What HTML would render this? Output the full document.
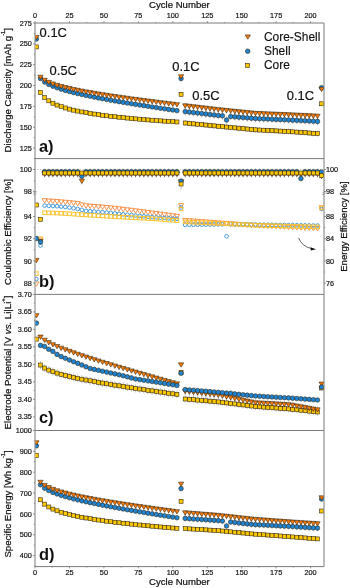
<!DOCTYPE html><html><head><meta charset="utf-8"><style>html,body{margin:0;padding:0;background:#fff;overflow:hidden}svg{display:block;will-change:transform;font-family:"Liberation Sans",sans-serif}</style></head><body>
<svg width="350" height="588" viewBox="0 0 350 588" font-family="&quot;Liberation Sans&quot;, sans-serif" fill="#111">
<rect width="350" height="588" fill="#fff"/>
<defs><clipPath id="pc"><rect x="35.4" y="23.5" width="288.2" height="542.6"/></clipPath></defs>
<path d="M35.0,169.5 H324.0" stroke="#9a9a9a" stroke-width="0.6" stroke-dasharray="1,1.5"/>
<path d="M35.0,23.0 H324.0 V566.6 H35.0 Z" fill="none" stroke="#7a7a7a" stroke-width="1"/>
<path d="M35.0,158.6 H324.0" fill="none" stroke="#7a7a7a" stroke-width="1"/>
<path d="M35.0,294.4 H324.0" fill="none" stroke="#7a7a7a" stroke-width="1"/>
<path d="M35.0,430.5 H324.0" fill="none" stroke="#7a7a7a" stroke-width="1"/>
<path d="M35.00,23.0 v-1.8 M35.00,566.6 v1.8" stroke="#7a7a7a" stroke-width="0.8"/>
<path d="M69.45,23.0 v-1.8 M69.45,566.6 v1.8" stroke="#7a7a7a" stroke-width="0.8"/>
<path d="M103.90,23.0 v-1.8 M103.90,566.6 v1.8" stroke="#7a7a7a" stroke-width="0.8"/>
<path d="M138.35,23.0 v-1.8 M138.35,566.6 v1.8" stroke="#7a7a7a" stroke-width="0.8"/>
<path d="M172.80,23.0 v-1.8 M172.80,566.6 v1.8" stroke="#7a7a7a" stroke-width="0.8"/>
<path d="M207.25,23.0 v-1.8 M207.25,566.6 v1.8" stroke="#7a7a7a" stroke-width="0.8"/>
<path d="M241.70,23.0 v-1.8 M241.70,566.6 v1.8" stroke="#7a7a7a" stroke-width="0.8"/>
<path d="M276.15,23.0 v-1.8 M276.15,566.6 v1.8" stroke="#7a7a7a" stroke-width="0.8"/>
<path d="M310.60,23.0 v-1.8 M310.60,566.6 v1.8" stroke="#7a7a7a" stroke-width="0.8"/>
<path d="M52.22,23.0 v-1 M52.22,566.6 v1" stroke="#7a7a7a" stroke-width="0.7"/>
<path d="M86.67,23.0 v-1 M86.67,566.6 v1" stroke="#7a7a7a" stroke-width="0.7"/>
<path d="M121.12,23.0 v-1 M121.12,566.6 v1" stroke="#7a7a7a" stroke-width="0.7"/>
<path d="M155.57,23.0 v-1 M155.57,566.6 v1" stroke="#7a7a7a" stroke-width="0.7"/>
<path d="M190.02,23.0 v-1 M190.02,566.6 v1" stroke="#7a7a7a" stroke-width="0.7"/>
<path d="M224.47,23.0 v-1 M224.47,566.6 v1" stroke="#7a7a7a" stroke-width="0.7"/>
<path d="M258.92,23.0 v-1 M258.92,566.6 v1" stroke="#7a7a7a" stroke-width="0.7"/>
<path d="M293.38,23.0 v-1 M293.38,566.6 v1" stroke="#7a7a7a" stroke-width="0.7"/>
<path d="M33.00,23.00 H35.0" stroke="#7a7a7a" stroke-width="0.8"/>
<path d="M33.00,43.83 H35.0" stroke="#7a7a7a" stroke-width="0.8"/>
<path d="M33.00,64.66 H35.0" stroke="#7a7a7a" stroke-width="0.8"/>
<path d="M33.00,85.49 H35.0" stroke="#7a7a7a" stroke-width="0.8"/>
<path d="M33.00,106.32 H35.0" stroke="#7a7a7a" stroke-width="0.8"/>
<path d="M33.00,127.15 H35.0" stroke="#7a7a7a" stroke-width="0.8"/>
<path d="M33.00,147.98 H35.0" stroke="#7a7a7a" stroke-width="0.8"/>
<path d="M33.80,33.42 H35.0" stroke="#7a7a7a" stroke-width="0.7"/>
<path d="M33.80,54.25 H35.0" stroke="#7a7a7a" stroke-width="0.7"/>
<path d="M33.80,75.08 H35.0" stroke="#7a7a7a" stroke-width="0.7"/>
<path d="M33.80,95.91 H35.0" stroke="#7a7a7a" stroke-width="0.7"/>
<path d="M33.80,116.74 H35.0" stroke="#7a7a7a" stroke-width="0.7"/>
<path d="M33.80,137.57 H35.0" stroke="#7a7a7a" stroke-width="0.7"/>
<path d="M33.80,158.40 H35.0" stroke="#7a7a7a" stroke-width="0.7"/>
<path d="M33.00,169.50 H35.0" stroke="#7a7a7a" stroke-width="0.8"/>
<path d="M33.00,191.60 H35.0" stroke="#7a7a7a" stroke-width="0.8"/>
<path d="M33.00,216.50 H35.0" stroke="#7a7a7a" stroke-width="0.8"/>
<path d="M33.00,238.70 H35.0" stroke="#7a7a7a" stroke-width="0.8"/>
<path d="M33.00,260.90 H35.0" stroke="#7a7a7a" stroke-width="0.8"/>
<path d="M33.00,283.10 H35.0" stroke="#7a7a7a" stroke-width="0.8"/>
<path d="M33.80,180.75 H35.0" stroke="#7a7a7a" stroke-width="0.7"/>
<path d="M33.80,227.60 H35.0" stroke="#7a7a7a" stroke-width="0.7"/>
<path d="M33.80,249.80 H35.0" stroke="#7a7a7a" stroke-width="0.7"/>
<path d="M33.80,272.00 H35.0" stroke="#7a7a7a" stroke-width="0.7"/>
<path d="M324.0,169.50 H326.00" stroke="#7a7a7a" stroke-width="0.8"/>
<path d="M324.0,191.60 H326.00" stroke="#7a7a7a" stroke-width="0.8"/>
<path d="M324.0,216.50 H326.00" stroke="#7a7a7a" stroke-width="0.8"/>
<path d="M324.0,238.70 H326.00" stroke="#7a7a7a" stroke-width="0.8"/>
<path d="M324.0,260.90 H326.00" stroke="#7a7a7a" stroke-width="0.8"/>
<path d="M324.0,283.10 H326.00" stroke="#7a7a7a" stroke-width="0.8"/>
<path d="M324.0,180.75 H325.20" stroke="#7a7a7a" stroke-width="0.7"/>
<path d="M324.0,227.60 H325.20" stroke="#7a7a7a" stroke-width="0.7"/>
<path d="M324.0,249.80 H325.20" stroke="#7a7a7a" stroke-width="0.7"/>
<path d="M324.0,272.00 H325.20" stroke="#7a7a7a" stroke-width="0.7"/>
<path d="M33.00,311.89 H35.0" stroke="#7a7a7a" stroke-width="0.8"/>
<path d="M33.00,329.38 H35.0" stroke="#7a7a7a" stroke-width="0.8"/>
<path d="M33.00,346.87 H35.0" stroke="#7a7a7a" stroke-width="0.8"/>
<path d="M33.00,364.36 H35.0" stroke="#7a7a7a" stroke-width="0.8"/>
<path d="M33.00,381.85 H35.0" stroke="#7a7a7a" stroke-width="0.8"/>
<path d="M33.00,399.34 H35.0" stroke="#7a7a7a" stroke-width="0.8"/>
<path d="M33.00,416.83 H35.0" stroke="#7a7a7a" stroke-width="0.8"/>
<path d="M33.80,303.14 H35.0" stroke="#7a7a7a" stroke-width="0.7"/>
<path d="M33.80,320.63 H35.0" stroke="#7a7a7a" stroke-width="0.7"/>
<path d="M33.80,338.12 H35.0" stroke="#7a7a7a" stroke-width="0.7"/>
<path d="M33.80,355.62 H35.0" stroke="#7a7a7a" stroke-width="0.7"/>
<path d="M33.80,373.10 H35.0" stroke="#7a7a7a" stroke-width="0.7"/>
<path d="M33.80,390.59 H35.0" stroke="#7a7a7a" stroke-width="0.7"/>
<path d="M33.80,408.08 H35.0" stroke="#7a7a7a" stroke-width="0.7"/>
<path d="M33.00,294.4 H35.0" stroke="#7a7a7a" stroke-width="0.8"/>
<path d="M33.00,430.50 H35.0" stroke="#7a7a7a" stroke-width="0.8"/>
<path d="M33.00,451.35 H35.0" stroke="#7a7a7a" stroke-width="0.8"/>
<path d="M33.00,472.20 H35.0" stroke="#7a7a7a" stroke-width="0.8"/>
<path d="M33.00,493.05 H35.0" stroke="#7a7a7a" stroke-width="0.8"/>
<path d="M33.00,513.90 H35.0" stroke="#7a7a7a" stroke-width="0.8"/>
<path d="M33.00,534.75 H35.0" stroke="#7a7a7a" stroke-width="0.8"/>
<path d="M33.00,555.60 H35.0" stroke="#7a7a7a" stroke-width="0.8"/>
<path d="M33.80,440.93 H35.0" stroke="#7a7a7a" stroke-width="0.7"/>
<path d="M33.80,461.78 H35.0" stroke="#7a7a7a" stroke-width="0.7"/>
<path d="M33.80,482.63 H35.0" stroke="#7a7a7a" stroke-width="0.7"/>
<path d="M33.80,503.48 H35.0" stroke="#7a7a7a" stroke-width="0.7"/>
<path d="M33.80,524.33 H35.0" stroke="#7a7a7a" stroke-width="0.7"/>
<path d="M33.80,545.18 H35.0" stroke="#7a7a7a" stroke-width="0.7"/>
<path d="M33.80,566.03 H35.0" stroke="#7a7a7a" stroke-width="0.7"/>
<rect x="33.80" y="192.2" width="2.4" height="1.5" fill="white"/>
<path d="M33.60,192.90 L36.40,191.50 M33.60,194.50 L36.40,193.10" stroke="#666" stroke-width="0.75"/>
<rect x="322.80" y="192.2" width="2.4" height="1.5" fill="white"/>
<path d="M322.60,192.90 L325.40,191.50 M322.60,194.50 L325.40,193.10" stroke="#666" stroke-width="0.75"/>
<g clip-path="url(#pc)">
<path d="M185.20,107.80V115.40 M189.34,108.28V115.88 M193.47,108.76V116.36 M197.60,109.24V116.84 M201.74,109.72V117.32 M205.87,110.20V117.80 M210.01,110.68V118.28 M214.14,111.16V118.76 M218.27,111.64V119.24 M222.41,112.02V119.62 M226.54,116.20V123.80 M230.68,112.69V120.29 M234.81,113.03V120.63 M238.94,113.36V120.96 M243.08,113.70V121.30 M247.21,114.03V121.63 M251.35,114.37V121.97 M255.48,114.70V122.30 M259.61,114.88V122.48 M263.75,115.06V122.66 M267.88,115.24V122.84 M272.02,115.42V123.02 M276.15,115.60V123.20 M280.28,115.78V123.38 M284.42,115.96V123.56 M288.55,116.14V123.74 M292.69,116.34V123.94 M296.82,116.55V124.15 M300.95,116.76V124.36 M305.09,116.97V124.57 M309.22,117.18V124.78 M313.36,117.39V124.99 M317.49,117.60V125.20" stroke="#a0a0a0" stroke-width="0.6" fill="none"/>
<path d="M185.20,120.00V126.00 M189.34,120.41V126.41 M193.47,120.82V126.82 M197.60,121.22V127.22 M201.74,121.63V127.63 M205.87,122.04V128.04 M210.01,122.45V128.45 M214.14,122.86V128.86 M218.27,123.26V129.26 M222.41,123.66V129.66 M226.54,124.05V130.05 M230.68,124.45V130.45 M234.81,124.84V130.84 M238.94,125.23V131.23 M243.08,125.62V131.62 M247.21,126.02V132.02 M251.35,126.41V132.41 M255.48,126.80V132.80 M259.61,127.02V133.02 M263.75,127.23V133.23 M267.88,127.45V133.45 M272.02,127.66V133.66 M276.15,127.88V133.88 M280.28,128.10V134.10 M284.42,128.31V134.31 M288.55,128.53V134.53 M292.69,128.80V134.80 M296.82,129.10V135.10 M300.95,129.40V135.40 M305.09,129.70V135.70 M309.22,130.00V136.00 M313.36,130.30V136.30 M317.49,130.60V136.60" stroke="#a0a0a0" stroke-width="0.6" fill="none"/>
<path d="M185.20,103.00V109.00 M189.34,103.48V109.48 M193.47,103.96V109.96 M197.60,104.44V110.44 M201.74,104.92V110.92 M205.87,105.40V111.40 M210.01,105.88V111.88 M214.14,106.36V112.36 M218.27,106.84V112.84 M222.41,107.28V113.28 M226.54,107.69V113.69 M230.68,108.11V114.11 M234.81,108.52V114.52 M238.94,108.94V114.94 M243.08,109.35V115.35 M247.21,109.77V115.77 M251.35,110.18V116.18 M255.48,110.60V116.60 M259.61,110.77V116.77 M263.75,110.94V116.94 M267.88,111.10V117.10 M272.02,111.27V117.27 M276.15,111.44V117.44 M280.28,111.61V117.61 M284.42,111.78V117.78 M288.55,111.94V117.94 M292.69,112.14V118.14 M296.82,112.35V118.35 M300.95,112.56V118.56 M305.09,112.77V118.77 M309.22,112.98V118.98 M313.36,113.19V119.19 M317.49,113.40V119.40" stroke="#a0a0a0" stroke-width="0.6" fill="none"/>
<rect x="34.38" y="44.90" width="4.00" height="4.00" fill="#F9C600" stroke="#2a1f08" stroke-width="0.55"/>
<rect x="38.51" y="90.52" width="4.00" height="4.00" fill="#F9C600" stroke="#2a1f08" stroke-width="0.55"/>
<rect x="42.65" y="95.60" width="4.00" height="4.00" fill="#F9C600" stroke="#2a1f08" stroke-width="0.55"/>
<rect x="46.78" y="98.83" width="4.00" height="4.00" fill="#F9C600" stroke="#2a1f08" stroke-width="0.55"/>
<rect x="50.91" y="101.21" width="4.00" height="4.00" fill="#F9C600" stroke="#2a1f08" stroke-width="0.55"/>
<rect x="55.05" y="103.10" width="4.00" height="4.00" fill="#F9C600" stroke="#2a1f08" stroke-width="0.55"/>
<rect x="59.18" y="104.65" width="4.00" height="4.00" fill="#F9C600" stroke="#2a1f08" stroke-width="0.55"/>
<rect x="63.32" y="105.98" width="4.00" height="4.00" fill="#F9C600" stroke="#2a1f08" stroke-width="0.55"/>
<rect x="67.45" y="107.14" width="4.00" height="4.00" fill="#F9C600" stroke="#2a1f08" stroke-width="0.55"/>
<rect x="71.58" y="108.17" width="4.00" height="4.00" fill="#F9C600" stroke="#2a1f08" stroke-width="0.55"/>
<rect x="75.72" y="109.09" width="4.00" height="4.00" fill="#F9C600" stroke="#2a1f08" stroke-width="0.55"/>
<rect x="79.85" y="109.93" width="4.00" height="4.00" fill="#F9C600" stroke="#2a1f08" stroke-width="0.55"/>
<rect x="83.99" y="110.69" width="4.00" height="4.00" fill="#F9C600" stroke="#2a1f08" stroke-width="0.55"/>
<rect x="88.12" y="111.40" width="4.00" height="4.00" fill="#F9C600" stroke="#2a1f08" stroke-width="0.55"/>
<rect x="92.25" y="112.06" width="4.00" height="4.00" fill="#F9C600" stroke="#2a1f08" stroke-width="0.55"/>
<rect x="96.39" y="112.67" width="4.00" height="4.00" fill="#F9C600" stroke="#2a1f08" stroke-width="0.55"/>
<rect x="100.52" y="113.24" width="4.00" height="4.00" fill="#F9C600" stroke="#2a1f08" stroke-width="0.55"/>
<rect x="104.66" y="113.78" width="4.00" height="4.00" fill="#F9C600" stroke="#2a1f08" stroke-width="0.55"/>
<rect x="108.79" y="114.28" width="4.00" height="4.00" fill="#F9C600" stroke="#2a1f08" stroke-width="0.55"/>
<rect x="112.92" y="114.77" width="4.00" height="4.00" fill="#F9C600" stroke="#2a1f08" stroke-width="0.55"/>
<rect x="117.06" y="115.22" width="4.00" height="4.00" fill="#F9C600" stroke="#2a1f08" stroke-width="0.55"/>
<rect x="121.19" y="115.66" width="4.00" height="4.00" fill="#F9C600" stroke="#2a1f08" stroke-width="0.55"/>
<rect x="125.33" y="116.07" width="4.00" height="4.00" fill="#F9C600" stroke="#2a1f08" stroke-width="0.55"/>
<rect x="129.46" y="116.47" width="4.00" height="4.00" fill="#F9C600" stroke="#2a1f08" stroke-width="0.55"/>
<rect x="133.59" y="116.85" width="4.00" height="4.00" fill="#F9C600" stroke="#2a1f08" stroke-width="0.55"/>
<rect x="137.73" y="117.21" width="4.00" height="4.00" fill="#F9C600" stroke="#2a1f08" stroke-width="0.55"/>
<rect x="141.86" y="117.56" width="4.00" height="4.00" fill="#F9C600" stroke="#2a1f08" stroke-width="0.55"/>
<rect x="146.00" y="117.90" width="4.00" height="4.00" fill="#F9C600" stroke="#2a1f08" stroke-width="0.55"/>
<rect x="150.13" y="118.22" width="4.00" height="4.00" fill="#F9C600" stroke="#2a1f08" stroke-width="0.55"/>
<rect x="154.26" y="118.54" width="4.00" height="4.00" fill="#F9C600" stroke="#2a1f08" stroke-width="0.55"/>
<rect x="158.40" y="118.84" width="4.00" height="4.00" fill="#F9C600" stroke="#2a1f08" stroke-width="0.55"/>
<rect x="162.53" y="119.13" width="4.00" height="4.00" fill="#F9C600" stroke="#2a1f08" stroke-width="0.55"/>
<rect x="166.67" y="119.42" width="4.00" height="4.00" fill="#F9C600" stroke="#2a1f08" stroke-width="0.55"/>
<rect x="170.80" y="119.69" width="4.00" height="4.00" fill="#F9C600" stroke="#2a1f08" stroke-width="0.55"/>
<rect x="174.93" y="119.96" width="4.00" height="4.00" fill="#F9C600" stroke="#2a1f08" stroke-width="0.55"/>
<rect x="179.07" y="92.30" width="4.00" height="4.00" fill="#F9C600" stroke="#2a1f08" stroke-width="0.55"/>
<rect x="183.20" y="121.00" width="4.00" height="4.00" fill="#F9C600" stroke="#2a1f08" stroke-width="0.55"/>
<rect x="187.34" y="121.41" width="4.00" height="4.00" fill="#F9C600" stroke="#2a1f08" stroke-width="0.55"/>
<rect x="191.47" y="121.82" width="4.00" height="4.00" fill="#F9C600" stroke="#2a1f08" stroke-width="0.55"/>
<rect x="195.60" y="122.22" width="4.00" height="4.00" fill="#F9C600" stroke="#2a1f08" stroke-width="0.55"/>
<rect x="199.74" y="122.63" width="4.00" height="4.00" fill="#F9C600" stroke="#2a1f08" stroke-width="0.55"/>
<rect x="203.87" y="123.04" width="4.00" height="4.00" fill="#F9C600" stroke="#2a1f08" stroke-width="0.55"/>
<rect x="208.01" y="123.45" width="4.00" height="4.00" fill="#F9C600" stroke="#2a1f08" stroke-width="0.55"/>
<rect x="212.14" y="123.86" width="4.00" height="4.00" fill="#F9C600" stroke="#2a1f08" stroke-width="0.55"/>
<rect x="216.27" y="124.26" width="4.00" height="4.00" fill="#F9C600" stroke="#2a1f08" stroke-width="0.55"/>
<rect x="220.41" y="124.66" width="4.00" height="4.00" fill="#F9C600" stroke="#2a1f08" stroke-width="0.55"/>
<rect x="224.54" y="125.05" width="4.00" height="4.00" fill="#F9C600" stroke="#2a1f08" stroke-width="0.55"/>
<rect x="228.68" y="125.45" width="4.00" height="4.00" fill="#F9C600" stroke="#2a1f08" stroke-width="0.55"/>
<rect x="232.81" y="125.84" width="4.00" height="4.00" fill="#F9C600" stroke="#2a1f08" stroke-width="0.55"/>
<rect x="236.94" y="126.23" width="4.00" height="4.00" fill="#F9C600" stroke="#2a1f08" stroke-width="0.55"/>
<rect x="241.08" y="126.62" width="4.00" height="4.00" fill="#F9C600" stroke="#2a1f08" stroke-width="0.55"/>
<rect x="245.21" y="127.02" width="4.00" height="4.00" fill="#F9C600" stroke="#2a1f08" stroke-width="0.55"/>
<rect x="249.35" y="127.41" width="4.00" height="4.00" fill="#F9C600" stroke="#2a1f08" stroke-width="0.55"/>
<rect x="253.48" y="127.80" width="4.00" height="4.00" fill="#F9C600" stroke="#2a1f08" stroke-width="0.55"/>
<rect x="257.61" y="128.02" width="4.00" height="4.00" fill="#F9C600" stroke="#2a1f08" stroke-width="0.55"/>
<rect x="261.75" y="128.23" width="4.00" height="4.00" fill="#F9C600" stroke="#2a1f08" stroke-width="0.55"/>
<rect x="265.88" y="128.45" width="4.00" height="4.00" fill="#F9C600" stroke="#2a1f08" stroke-width="0.55"/>
<rect x="270.02" y="128.66" width="4.00" height="4.00" fill="#F9C600" stroke="#2a1f08" stroke-width="0.55"/>
<rect x="274.15" y="128.88" width="4.00" height="4.00" fill="#F9C600" stroke="#2a1f08" stroke-width="0.55"/>
<rect x="278.28" y="129.10" width="4.00" height="4.00" fill="#F9C600" stroke="#2a1f08" stroke-width="0.55"/>
<rect x="282.42" y="129.31" width="4.00" height="4.00" fill="#F9C600" stroke="#2a1f08" stroke-width="0.55"/>
<rect x="286.55" y="129.53" width="4.00" height="4.00" fill="#F9C600" stroke="#2a1f08" stroke-width="0.55"/>
<rect x="290.69" y="129.80" width="4.00" height="4.00" fill="#F9C600" stroke="#2a1f08" stroke-width="0.55"/>
<rect x="294.82" y="130.10" width="4.00" height="4.00" fill="#F9C600" stroke="#2a1f08" stroke-width="0.55"/>
<rect x="298.95" y="130.40" width="4.00" height="4.00" fill="#F9C600" stroke="#2a1f08" stroke-width="0.55"/>
<rect x="303.09" y="130.70" width="4.00" height="4.00" fill="#F9C600" stroke="#2a1f08" stroke-width="0.55"/>
<rect x="307.22" y="131.00" width="4.00" height="4.00" fill="#F9C600" stroke="#2a1f08" stroke-width="0.55"/>
<rect x="311.36" y="131.30" width="4.00" height="4.00" fill="#F9C600" stroke="#2a1f08" stroke-width="0.55"/>
<rect x="315.49" y="131.60" width="4.00" height="4.00" fill="#F9C600" stroke="#2a1f08" stroke-width="0.55"/>
<rect x="319.62" y="101.80" width="4.00" height="4.00" fill="#F9C600" stroke="#2a1f08" stroke-width="0.55"/>
<circle cx="36.38" cy="39.00" r="2.30" fill="#2084D3" stroke="#2a1f08" stroke-width="0.55"/>
<circle cx="40.51" cy="78.56" r="2.30" fill="#2084D3" stroke="#2a1f08" stroke-width="0.55"/>
<circle cx="44.65" cy="82.03" r="2.30" fill="#2084D3" stroke="#2a1f08" stroke-width="0.55"/>
<circle cx="48.78" cy="84.40" r="2.30" fill="#2084D3" stroke="#2a1f08" stroke-width="0.55"/>
<circle cx="52.91" cy="86.25" r="2.30" fill="#2084D3" stroke="#2a1f08" stroke-width="0.55"/>
<circle cx="57.05" cy="87.82" r="2.30" fill="#2084D3" stroke="#2a1f08" stroke-width="0.55"/>
<circle cx="61.18" cy="89.19" r="2.30" fill="#2084D3" stroke="#2a1f08" stroke-width="0.55"/>
<circle cx="65.32" cy="90.42" r="2.30" fill="#2084D3" stroke="#2a1f08" stroke-width="0.55"/>
<circle cx="69.45" cy="91.55" r="2.30" fill="#2084D3" stroke="#2a1f08" stroke-width="0.55"/>
<circle cx="73.58" cy="92.60" r="2.30" fill="#2084D3" stroke="#2a1f08" stroke-width="0.55"/>
<circle cx="77.72" cy="93.59" r="2.30" fill="#2084D3" stroke="#2a1f08" stroke-width="0.55"/>
<circle cx="81.85" cy="94.53" r="2.30" fill="#2084D3" stroke="#2a1f08" stroke-width="0.55"/>
<circle cx="85.99" cy="95.43" r="2.30" fill="#2084D3" stroke="#2a1f08" stroke-width="0.55"/>
<circle cx="90.12" cy="96.29" r="2.30" fill="#2084D3" stroke="#2a1f08" stroke-width="0.55"/>
<circle cx="94.25" cy="97.12" r="2.30" fill="#2084D3" stroke="#2a1f08" stroke-width="0.55"/>
<circle cx="98.39" cy="97.92" r="2.30" fill="#2084D3" stroke="#2a1f08" stroke-width="0.55"/>
<circle cx="102.52" cy="98.70" r="2.30" fill="#2084D3" stroke="#2a1f08" stroke-width="0.55"/>
<circle cx="106.66" cy="99.46" r="2.30" fill="#2084D3" stroke="#2a1f08" stroke-width="0.55"/>
<circle cx="110.79" cy="100.20" r="2.30" fill="#2084D3" stroke="#2a1f08" stroke-width="0.55"/>
<circle cx="114.92" cy="100.93" r="2.30" fill="#2084D3" stroke="#2a1f08" stroke-width="0.55"/>
<circle cx="119.06" cy="101.64" r="2.30" fill="#2084D3" stroke="#2a1f08" stroke-width="0.55"/>
<circle cx="123.19" cy="102.34" r="2.30" fill="#2084D3" stroke="#2a1f08" stroke-width="0.55"/>
<circle cx="127.33" cy="103.03" r="2.30" fill="#2084D3" stroke="#2a1f08" stroke-width="0.55"/>
<circle cx="131.46" cy="103.70" r="2.30" fill="#2084D3" stroke="#2a1f08" stroke-width="0.55"/>
<circle cx="135.59" cy="104.37" r="2.30" fill="#2084D3" stroke="#2a1f08" stroke-width="0.55"/>
<circle cx="139.73" cy="105.03" r="2.30" fill="#2084D3" stroke="#2a1f08" stroke-width="0.55"/>
<circle cx="143.86" cy="105.67" r="2.30" fill="#2084D3" stroke="#2a1f08" stroke-width="0.55"/>
<circle cx="148.00" cy="106.31" r="2.30" fill="#2084D3" stroke="#2a1f08" stroke-width="0.55"/>
<circle cx="152.13" cy="106.95" r="2.30" fill="#2084D3" stroke="#2a1f08" stroke-width="0.55"/>
<circle cx="156.26" cy="107.57" r="2.30" fill="#2084D3" stroke="#2a1f08" stroke-width="0.55"/>
<circle cx="160.40" cy="108.19" r="2.30" fill="#2084D3" stroke="#2a1f08" stroke-width="0.55"/>
<circle cx="164.53" cy="108.81" r="2.30" fill="#2084D3" stroke="#2a1f08" stroke-width="0.55"/>
<circle cx="168.67" cy="109.42" r="2.30" fill="#2084D3" stroke="#2a1f08" stroke-width="0.55"/>
<circle cx="172.80" cy="110.02" r="2.30" fill="#2084D3" stroke="#2a1f08" stroke-width="0.55"/>
<circle cx="176.93" cy="110.62" r="2.30" fill="#2084D3" stroke="#2a1f08" stroke-width="0.55"/>
<circle cx="181.07" cy="78.60" r="2.30" fill="#2084D3" stroke="#2a1f08" stroke-width="0.55"/>
<circle cx="185.20" cy="111.60" r="2.30" fill="#2084D3" stroke="#2a1f08" stroke-width="0.55"/>
<circle cx="189.34" cy="112.08" r="2.30" fill="#2084D3" stroke="#2a1f08" stroke-width="0.55"/>
<circle cx="193.47" cy="112.56" r="2.30" fill="#2084D3" stroke="#2a1f08" stroke-width="0.55"/>
<circle cx="197.60" cy="113.04" r="2.30" fill="#2084D3" stroke="#2a1f08" stroke-width="0.55"/>
<circle cx="201.74" cy="113.52" r="2.30" fill="#2084D3" stroke="#2a1f08" stroke-width="0.55"/>
<circle cx="205.87" cy="114.00" r="2.30" fill="#2084D3" stroke="#2a1f08" stroke-width="0.55"/>
<circle cx="210.01" cy="114.48" r="2.30" fill="#2084D3" stroke="#2a1f08" stroke-width="0.55"/>
<circle cx="214.14" cy="114.96" r="2.30" fill="#2084D3" stroke="#2a1f08" stroke-width="0.55"/>
<circle cx="218.27" cy="115.44" r="2.30" fill="#2084D3" stroke="#2a1f08" stroke-width="0.55"/>
<circle cx="222.41" cy="115.82" r="2.30" fill="#2084D3" stroke="#2a1f08" stroke-width="0.55"/>
<circle cx="226.54" cy="120.00" r="2.30" fill="#2084D3" stroke="#2a1f08" stroke-width="0.55"/>
<circle cx="230.68" cy="116.49" r="2.30" fill="#2084D3" stroke="#2a1f08" stroke-width="0.55"/>
<circle cx="234.81" cy="116.83" r="2.30" fill="#2084D3" stroke="#2a1f08" stroke-width="0.55"/>
<circle cx="238.94" cy="117.16" r="2.30" fill="#2084D3" stroke="#2a1f08" stroke-width="0.55"/>
<circle cx="243.08" cy="117.50" r="2.30" fill="#2084D3" stroke="#2a1f08" stroke-width="0.55"/>
<circle cx="247.21" cy="117.83" r="2.30" fill="#2084D3" stroke="#2a1f08" stroke-width="0.55"/>
<circle cx="251.35" cy="118.17" r="2.30" fill="#2084D3" stroke="#2a1f08" stroke-width="0.55"/>
<circle cx="255.48" cy="118.50" r="2.30" fill="#2084D3" stroke="#2a1f08" stroke-width="0.55"/>
<circle cx="259.61" cy="118.68" r="2.30" fill="#2084D3" stroke="#2a1f08" stroke-width="0.55"/>
<circle cx="263.75" cy="118.86" r="2.30" fill="#2084D3" stroke="#2a1f08" stroke-width="0.55"/>
<circle cx="267.88" cy="119.04" r="2.30" fill="#2084D3" stroke="#2a1f08" stroke-width="0.55"/>
<circle cx="272.02" cy="119.22" r="2.30" fill="#2084D3" stroke="#2a1f08" stroke-width="0.55"/>
<circle cx="276.15" cy="119.40" r="2.30" fill="#2084D3" stroke="#2a1f08" stroke-width="0.55"/>
<circle cx="280.28" cy="119.58" r="2.30" fill="#2084D3" stroke="#2a1f08" stroke-width="0.55"/>
<circle cx="284.42" cy="119.76" r="2.30" fill="#2084D3" stroke="#2a1f08" stroke-width="0.55"/>
<circle cx="288.55" cy="119.94" r="2.30" fill="#2084D3" stroke="#2a1f08" stroke-width="0.55"/>
<circle cx="292.69" cy="120.14" r="2.30" fill="#2084D3" stroke="#2a1f08" stroke-width="0.55"/>
<circle cx="296.82" cy="120.35" r="2.30" fill="#2084D3" stroke="#2a1f08" stroke-width="0.55"/>
<circle cx="300.95" cy="120.56" r="2.30" fill="#2084D3" stroke="#2a1f08" stroke-width="0.55"/>
<circle cx="305.09" cy="120.77" r="2.30" fill="#2084D3" stroke="#2a1f08" stroke-width="0.55"/>
<circle cx="309.22" cy="120.98" r="2.30" fill="#2084D3" stroke="#2a1f08" stroke-width="0.55"/>
<circle cx="313.36" cy="121.19" r="2.30" fill="#2084D3" stroke="#2a1f08" stroke-width="0.55"/>
<circle cx="317.49" cy="121.40" r="2.30" fill="#2084D3" stroke="#2a1f08" stroke-width="0.55"/>
<circle cx="321.62" cy="87.70" r="2.30" fill="#2084D3" stroke="#2a1f08" stroke-width="0.55"/>
<polygon points="33.73,35.43 39.03,35.43 36.38,39.77" fill="#F57A0A" stroke="#2a1f08" stroke-width="0.55"/>
<polygon points="37.86,75.22 43.16,75.22 40.51,79.57" fill="#F57A0A" stroke="#2a1f08" stroke-width="0.55"/>
<polygon points="42.00,78.28 47.30,78.28 44.65,82.62" fill="#F57A0A" stroke="#2a1f08" stroke-width="0.55"/>
<polygon points="46.13,80.35 51.43,80.35 48.78,84.70" fill="#F57A0A" stroke="#2a1f08" stroke-width="0.55"/>
<polygon points="50.26,81.98 55.56,81.98 52.91,86.32" fill="#F57A0A" stroke="#2a1f08" stroke-width="0.55"/>
<polygon points="54.40,83.34 59.70,83.34 57.05,87.68" fill="#F57A0A" stroke="#2a1f08" stroke-width="0.55"/>
<polygon points="58.53,84.52 63.83,84.52 61.18,88.87" fill="#F57A0A" stroke="#2a1f08" stroke-width="0.55"/>
<polygon points="62.67,85.59 67.97,85.59 65.32,89.93" fill="#F57A0A" stroke="#2a1f08" stroke-width="0.55"/>
<polygon points="66.80,86.56 72.10,86.56 69.45,90.90" fill="#F57A0A" stroke="#2a1f08" stroke-width="0.55"/>
<polygon points="70.93,87.46 76.23,87.46 73.58,91.81" fill="#F57A0A" stroke="#2a1f08" stroke-width="0.55"/>
<polygon points="75.07,88.31 80.37,88.31 77.72,92.66" fill="#F57A0A" stroke="#2a1f08" stroke-width="0.55"/>
<polygon points="79.20,89.11 84.50,89.11 81.85,93.46" fill="#F57A0A" stroke="#2a1f08" stroke-width="0.55"/>
<polygon points="83.34,89.88 88.64,89.88 85.99,94.22" fill="#F57A0A" stroke="#2a1f08" stroke-width="0.55"/>
<polygon points="87.47,90.61 92.77,90.61 90.12,94.96" fill="#F57A0A" stroke="#2a1f08" stroke-width="0.55"/>
<polygon points="91.60,91.32 96.90,91.32 94.25,95.66" fill="#F57A0A" stroke="#2a1f08" stroke-width="0.55"/>
<polygon points="95.74,92.00 101.04,92.00 98.39,96.35" fill="#F57A0A" stroke="#2a1f08" stroke-width="0.55"/>
<polygon points="99.87,92.66 105.17,92.66 102.52,97.01" fill="#F57A0A" stroke="#2a1f08" stroke-width="0.55"/>
<polygon points="104.01,93.31 109.31,93.31 106.66,97.65" fill="#F57A0A" stroke="#2a1f08" stroke-width="0.55"/>
<polygon points="108.14,93.93 113.44,93.93 110.79,98.28" fill="#F57A0A" stroke="#2a1f08" stroke-width="0.55"/>
<polygon points="112.27,94.55 117.57,94.55 114.92,98.89" fill="#F57A0A" stroke="#2a1f08" stroke-width="0.55"/>
<polygon points="116.41,95.15 121.71,95.15 119.06,99.49" fill="#F57A0A" stroke="#2a1f08" stroke-width="0.55"/>
<polygon points="120.54,95.74 125.84,95.74 123.19,100.08" fill="#F57A0A" stroke="#2a1f08" stroke-width="0.55"/>
<polygon points="124.68,96.31 129.98,96.31 127.33,100.66" fill="#F57A0A" stroke="#2a1f08" stroke-width="0.55"/>
<polygon points="128.81,96.88 134.11,96.88 131.46,101.23" fill="#F57A0A" stroke="#2a1f08" stroke-width="0.55"/>
<polygon points="132.94,97.44 138.24,97.44 135.59,101.79" fill="#F57A0A" stroke="#2a1f08" stroke-width="0.55"/>
<polygon points="137.08,97.99 142.38,97.99 139.73,102.34" fill="#F57A0A" stroke="#2a1f08" stroke-width="0.55"/>
<polygon points="141.21,98.54 146.51,98.54 143.86,102.88" fill="#F57A0A" stroke="#2a1f08" stroke-width="0.55"/>
<polygon points="145.35,99.07 150.65,99.07 148.00,103.42" fill="#F57A0A" stroke="#2a1f08" stroke-width="0.55"/>
<polygon points="149.48,99.60 154.78,99.60 152.13,103.95" fill="#F57A0A" stroke="#2a1f08" stroke-width="0.55"/>
<polygon points="153.61,100.13 158.91,100.13 156.26,104.47" fill="#F57A0A" stroke="#2a1f08" stroke-width="0.55"/>
<polygon points="157.75,100.65 163.05,100.65 160.40,104.99" fill="#F57A0A" stroke="#2a1f08" stroke-width="0.55"/>
<polygon points="161.88,101.16 167.18,101.16 164.53,105.51" fill="#F57A0A" stroke="#2a1f08" stroke-width="0.55"/>
<polygon points="166.02,101.67 171.32,101.67 168.67,106.02" fill="#F57A0A" stroke="#2a1f08" stroke-width="0.55"/>
<polygon points="170.15,102.17 175.45,102.17 172.80,106.52" fill="#F57A0A" stroke="#2a1f08" stroke-width="0.55"/>
<polygon points="174.28,102.67 179.58,102.67 176.93,107.02" fill="#F57A0A" stroke="#2a1f08" stroke-width="0.55"/>
<polygon points="178.42,74.73 183.72,74.73 181.07,79.07" fill="#F57A0A" stroke="#2a1f08" stroke-width="0.55"/>
<polygon points="182.55,103.83 187.85,103.83 185.20,108.17" fill="#F57A0A" stroke="#2a1f08" stroke-width="0.55"/>
<polygon points="186.69,104.31 191.99,104.31 189.34,108.65" fill="#F57A0A" stroke="#2a1f08" stroke-width="0.55"/>
<polygon points="190.82,104.79 196.12,104.79 193.47,109.13" fill="#F57A0A" stroke="#2a1f08" stroke-width="0.55"/>
<polygon points="194.95,105.27 200.25,105.27 197.60,109.61" fill="#F57A0A" stroke="#2a1f08" stroke-width="0.55"/>
<polygon points="199.09,105.75 204.39,105.75 201.74,110.09" fill="#F57A0A" stroke="#2a1f08" stroke-width="0.55"/>
<polygon points="203.22,106.23 208.52,106.23 205.87,110.57" fill="#F57A0A" stroke="#2a1f08" stroke-width="0.55"/>
<polygon points="207.36,106.71 212.66,106.71 210.01,111.05" fill="#F57A0A" stroke="#2a1f08" stroke-width="0.55"/>
<polygon points="211.49,107.19 216.79,107.19 214.14,111.53" fill="#F57A0A" stroke="#2a1f08" stroke-width="0.55"/>
<polygon points="215.62,107.67 220.92,107.67 218.27,112.01" fill="#F57A0A" stroke="#2a1f08" stroke-width="0.55"/>
<polygon points="219.76,108.10 225.06,108.10 222.41,112.45" fill="#F57A0A" stroke="#2a1f08" stroke-width="0.55"/>
<polygon points="223.89,108.52 229.19,108.52 226.54,112.87" fill="#F57A0A" stroke="#2a1f08" stroke-width="0.55"/>
<polygon points="228.03,108.93 233.33,108.93 230.68,113.28" fill="#F57A0A" stroke="#2a1f08" stroke-width="0.55"/>
<polygon points="232.16,109.35 237.46,109.35 234.81,113.70" fill="#F57A0A" stroke="#2a1f08" stroke-width="0.55"/>
<polygon points="236.29,109.77 241.59,109.77 238.94,114.11" fill="#F57A0A" stroke="#2a1f08" stroke-width="0.55"/>
<polygon points="240.43,110.18 245.73,110.18 243.08,114.53" fill="#F57A0A" stroke="#2a1f08" stroke-width="0.55"/>
<polygon points="244.56,110.60 249.86,110.60 247.21,114.94" fill="#F57A0A" stroke="#2a1f08" stroke-width="0.55"/>
<polygon points="248.70,111.01 254.00,111.01 251.35,115.36" fill="#F57A0A" stroke="#2a1f08" stroke-width="0.55"/>
<polygon points="252.83,111.43 258.13,111.43 255.48,115.77" fill="#F57A0A" stroke="#2a1f08" stroke-width="0.55"/>
<polygon points="256.96,111.59 262.26,111.59 259.61,115.94" fill="#F57A0A" stroke="#2a1f08" stroke-width="0.55"/>
<polygon points="261.10,111.76 266.40,111.76 263.75,116.11" fill="#F57A0A" stroke="#2a1f08" stroke-width="0.55"/>
<polygon points="265.23,111.93 270.53,111.93 267.88,116.28" fill="#F57A0A" stroke="#2a1f08" stroke-width="0.55"/>
<polygon points="269.37,112.10 274.67,112.10 272.02,116.44" fill="#F57A0A" stroke="#2a1f08" stroke-width="0.55"/>
<polygon points="273.50,112.27 278.80,112.27 276.15,116.61" fill="#F57A0A" stroke="#2a1f08" stroke-width="0.55"/>
<polygon points="277.63,112.44 282.93,112.44 280.28,116.78" fill="#F57A0A" stroke="#2a1f08" stroke-width="0.55"/>
<polygon points="281.77,112.60 287.07,112.60 284.42,116.95" fill="#F57A0A" stroke="#2a1f08" stroke-width="0.55"/>
<polygon points="285.90,112.77 291.20,112.77 288.55,117.12" fill="#F57A0A" stroke="#2a1f08" stroke-width="0.55"/>
<polygon points="290.04,112.97 295.34,112.97 292.69,117.31" fill="#F57A0A" stroke="#2a1f08" stroke-width="0.55"/>
<polygon points="294.17,113.18 299.47,113.18 296.82,117.52" fill="#F57A0A" stroke="#2a1f08" stroke-width="0.55"/>
<polygon points="298.30,113.39 303.60,113.39 300.95,117.73" fill="#F57A0A" stroke="#2a1f08" stroke-width="0.55"/>
<polygon points="302.44,113.60 307.74,113.60 305.09,117.94" fill="#F57A0A" stroke="#2a1f08" stroke-width="0.55"/>
<polygon points="306.57,113.81 311.87,113.81 309.22,118.15" fill="#F57A0A" stroke="#2a1f08" stroke-width="0.55"/>
<polygon points="310.71,114.02 316.01,114.02 313.36,118.36" fill="#F57A0A" stroke="#2a1f08" stroke-width="0.55"/>
<polygon points="314.84,114.23 320.14,114.23 317.49,118.57" fill="#F57A0A" stroke="#2a1f08" stroke-width="0.55"/>
<polygon points="318.97,87.23 324.27,87.23 321.62,91.57" fill="#F57A0A" stroke="#2a1f08" stroke-width="0.55"/>
<polygon points="33.73,281.93 39.03,281.93 36.38,286.27" fill="none" stroke="#F7914A" stroke-width="0.95"/>
<polygon points="37.86,237.83 43.16,237.83 40.51,242.17" fill="none" stroke="#F7914A" stroke-width="0.95"/>
<polygon points="42.00,198.73 47.30,198.73 44.65,203.07" fill="none" stroke="#F7914A" stroke-width="0.95"/>
<polygon points="46.13,198.99 51.43,198.99 48.78,203.34" fill="none" stroke="#F7914A" stroke-width="0.95"/>
<polygon points="50.26,199.26 55.56,199.26 52.91,203.61" fill="none" stroke="#F7914A" stroke-width="0.95"/>
<polygon points="54.40,199.53 59.70,199.53 57.05,203.87" fill="none" stroke="#F7914A" stroke-width="0.95"/>
<polygon points="58.53,199.90 63.83,199.90 61.18,204.25" fill="none" stroke="#F7914A" stroke-width="0.95"/>
<polygon points="62.67,200.28 67.97,200.28 65.32,204.62" fill="none" stroke="#F7914A" stroke-width="0.95"/>
<polygon points="66.80,200.67 72.10,200.67 69.45,205.02" fill="none" stroke="#F7914A" stroke-width="0.95"/>
<polygon points="70.93,201.10 76.23,201.10 73.58,205.44" fill="none" stroke="#F7914A" stroke-width="0.95"/>
<polygon points="75.07,201.53 80.37,201.53 77.72,205.87" fill="none" stroke="#F7914A" stroke-width="0.95"/>
<polygon points="79.20,202.83 84.50,202.83 81.85,207.17" fill="none" stroke="#F7914A" stroke-width="0.95"/>
<polygon points="83.34,203.83 88.64,203.83 85.99,208.17" fill="none" stroke="#F7914A" stroke-width="0.95"/>
<polygon points="87.47,204.16 92.77,204.16 90.12,208.51" fill="none" stroke="#F7914A" stroke-width="0.95"/>
<polygon points="91.60,204.50 96.90,204.50 94.25,208.84" fill="none" stroke="#F7914A" stroke-width="0.95"/>
<polygon points="95.74,204.83 101.04,204.83 98.39,209.18" fill="none" stroke="#F7914A" stroke-width="0.95"/>
<polygon points="99.87,205.17 105.17,205.17 102.52,209.51" fill="none" stroke="#F7914A" stroke-width="0.95"/>
<polygon points="104.01,205.50 109.31,205.50 106.66,209.85" fill="none" stroke="#F7914A" stroke-width="0.95"/>
<polygon points="108.14,205.89 113.44,205.89 110.79,210.24" fill="none" stroke="#F7914A" stroke-width="0.95"/>
<polygon points="112.27,206.38 117.57,206.38 114.92,210.72" fill="none" stroke="#F7914A" stroke-width="0.95"/>
<polygon points="116.41,206.86 121.71,206.86 119.06,211.21" fill="none" stroke="#F7914A" stroke-width="0.95"/>
<polygon points="120.54,207.35 125.84,207.35 123.19,211.70" fill="none" stroke="#F7914A" stroke-width="0.95"/>
<polygon points="124.68,207.84 129.98,207.84 127.33,212.19" fill="none" stroke="#F7914A" stroke-width="0.95"/>
<polygon points="128.81,208.33 134.11,208.33 131.46,212.67" fill="none" stroke="#F7914A" stroke-width="0.95"/>
<polygon points="132.94,208.87 138.24,208.87 135.59,213.22" fill="none" stroke="#F7914A" stroke-width="0.95"/>
<polygon points="137.08,209.41 142.38,209.41 139.73,213.76" fill="none" stroke="#F7914A" stroke-width="0.95"/>
<polygon points="141.21,209.96 146.51,209.96 143.86,214.30" fill="none" stroke="#F7914A" stroke-width="0.95"/>
<polygon points="145.35,210.50 150.65,210.50 148.00,214.85" fill="none" stroke="#F7914A" stroke-width="0.95"/>
<polygon points="149.48,211.05 154.78,211.05 152.13,215.39" fill="none" stroke="#F7914A" stroke-width="0.95"/>
<polygon points="153.61,211.59 158.91,211.59 156.26,215.94" fill="none" stroke="#F7914A" stroke-width="0.95"/>
<polygon points="157.75,212.14 163.05,212.14 160.40,216.48" fill="none" stroke="#F7914A" stroke-width="0.95"/>
<polygon points="161.88,212.69 167.18,212.69 164.53,217.03" fill="none" stroke="#F7914A" stroke-width="0.95"/>
<polygon points="166.02,213.23 171.32,213.23 168.67,217.58" fill="none" stroke="#F7914A" stroke-width="0.95"/>
<polygon points="170.15,213.78 175.45,213.78 172.80,218.13" fill="none" stroke="#F7914A" stroke-width="0.95"/>
<polygon points="174.28,214.33 179.58,214.33 176.93,218.67" fill="none" stroke="#F7914A" stroke-width="0.95"/>
<polygon points="178.42,203.63 183.72,203.63 181.07,207.97" fill="none" stroke="#F7914A" stroke-width="0.95"/>
<polygon points="182.55,218.43 187.85,218.43 185.20,222.77" fill="none" stroke="#F7914A" stroke-width="0.95"/>
<polygon points="186.69,218.73 191.99,218.73 189.34,223.08" fill="none" stroke="#F7914A" stroke-width="0.95"/>
<polygon points="190.82,219.04 196.12,219.04 193.47,223.38" fill="none" stroke="#F7914A" stroke-width="0.95"/>
<polygon points="194.95,219.34 200.25,219.34 197.60,223.69" fill="none" stroke="#F7914A" stroke-width="0.95"/>
<polygon points="199.09,219.65 204.39,219.65 201.74,224.00" fill="none" stroke="#F7914A" stroke-width="0.95"/>
<polygon points="203.22,219.96 208.52,219.96 205.87,224.30" fill="none" stroke="#F7914A" stroke-width="0.95"/>
<polygon points="207.36,220.26 212.66,220.26 210.01,224.61" fill="none" stroke="#F7914A" stroke-width="0.95"/>
<polygon points="211.49,220.57 216.79,220.57 214.14,224.91" fill="none" stroke="#F7914A" stroke-width="0.95"/>
<polygon points="215.62,220.87 220.92,220.87 218.27,225.22" fill="none" stroke="#F7914A" stroke-width="0.95"/>
<polygon points="219.76,221.18 225.06,221.18 222.41,225.53" fill="none" stroke="#F7914A" stroke-width="0.95"/>
<polygon points="223.89,221.49 229.19,221.49 226.54,225.83" fill="none" stroke="#F7914A" stroke-width="0.95"/>
<polygon points="228.03,221.79 233.33,221.79 230.68,226.14" fill="none" stroke="#F7914A" stroke-width="0.95"/>
<polygon points="232.16,222.10 237.46,222.10 234.81,226.44" fill="none" stroke="#F7914A" stroke-width="0.95"/>
<polygon points="236.29,222.40 241.59,222.40 238.94,226.75" fill="none" stroke="#F7914A" stroke-width="0.95"/>
<polygon points="240.43,222.71 245.73,222.71 243.08,227.06" fill="none" stroke="#F7914A" stroke-width="0.95"/>
<polygon points="244.56,223.02 249.86,223.02 247.21,227.36" fill="none" stroke="#F7914A" stroke-width="0.95"/>
<polygon points="248.70,223.32 254.00,223.32 251.35,227.67" fill="none" stroke="#F7914A" stroke-width="0.95"/>
<polygon points="252.83,223.63 258.13,223.63 255.48,227.97" fill="none" stroke="#F7914A" stroke-width="0.95"/>
<polygon points="256.96,223.83 262.26,223.83 259.61,228.17" fill="none" stroke="#F7914A" stroke-width="0.95"/>
<polygon points="261.10,224.03 266.40,224.03 263.75,228.37" fill="none" stroke="#F7914A" stroke-width="0.95"/>
<polygon points="265.23,224.23 270.53,224.23 267.88,228.57" fill="none" stroke="#F7914A" stroke-width="0.95"/>
<polygon points="269.37,224.43 274.67,224.43 272.02,228.77" fill="none" stroke="#F7914A" stroke-width="0.95"/>
<polygon points="273.50,224.63 278.80,224.63 276.15,228.97" fill="none" stroke="#F7914A" stroke-width="0.95"/>
<polygon points="277.63,224.83 282.93,224.83 280.28,229.17" fill="none" stroke="#F7914A" stroke-width="0.95"/>
<polygon points="281.77,225.03 287.07,225.03 284.42,229.37" fill="none" stroke="#F7914A" stroke-width="0.95"/>
<polygon points="285.90,225.23 291.20,225.23 288.55,229.57" fill="none" stroke="#F7914A" stroke-width="0.95"/>
<polygon points="290.04,225.43 295.34,225.43 292.69,229.77" fill="none" stroke="#F7914A" stroke-width="0.95"/>
<polygon points="294.17,225.63 299.47,225.63 296.82,229.97" fill="none" stroke="#F7914A" stroke-width="0.95"/>
<polygon points="298.30,225.83 303.60,225.83 300.95,230.17" fill="none" stroke="#F7914A" stroke-width="0.95"/>
<polygon points="302.44,226.03 307.74,226.03 305.09,230.37" fill="none" stroke="#F7914A" stroke-width="0.95"/>
<polygon points="306.57,226.23 311.87,226.23 309.22,230.57" fill="none" stroke="#F7914A" stroke-width="0.95"/>
<polygon points="310.71,226.43 316.01,226.43 313.36,230.77" fill="none" stroke="#F7914A" stroke-width="0.95"/>
<polygon points="314.84,226.63 320.14,226.63 317.49,230.97" fill="none" stroke="#F7914A" stroke-width="0.95"/>
<polygon points="318.97,205.83 324.27,205.83 321.62,210.17" fill="none" stroke="#F7914A" stroke-width="0.95"/>
<circle cx="36.38" cy="279.00" r="1.85" fill="none" stroke="#3E93D8" stroke-width="0.95"/>
<circle cx="40.51" cy="245.40" r="1.85" fill="none" stroke="#3E93D8" stroke-width="0.95"/>
<circle cx="44.65" cy="205.60" r="1.85" fill="none" stroke="#3E93D8" stroke-width="0.95"/>
<circle cx="48.78" cy="205.80" r="1.85" fill="none" stroke="#3E93D8" stroke-width="0.95"/>
<circle cx="52.91" cy="206.00" r="1.85" fill="none" stroke="#3E93D8" stroke-width="0.95"/>
<circle cx="57.05" cy="206.20" r="1.85" fill="none" stroke="#3E93D8" stroke-width="0.95"/>
<circle cx="61.18" cy="206.61" r="1.85" fill="none" stroke="#3E93D8" stroke-width="0.95"/>
<circle cx="65.32" cy="207.03" r="1.85" fill="none" stroke="#3E93D8" stroke-width="0.95"/>
<circle cx="69.45" cy="207.54" r="1.85" fill="none" stroke="#3E93D8" stroke-width="0.95"/>
<circle cx="73.58" cy="208.28" r="1.85" fill="none" stroke="#3E93D8" stroke-width="0.95"/>
<circle cx="77.72" cy="209.01" r="1.85" fill="none" stroke="#3E93D8" stroke-width="0.95"/>
<circle cx="81.85" cy="209.85" r="1.85" fill="none" stroke="#3E93D8" stroke-width="0.95"/>
<circle cx="85.99" cy="210.90" r="1.85" fill="none" stroke="#3E93D8" stroke-width="0.95"/>
<circle cx="90.12" cy="211.24" r="1.85" fill="none" stroke="#3E93D8" stroke-width="0.95"/>
<circle cx="94.25" cy="211.57" r="1.85" fill="none" stroke="#3E93D8" stroke-width="0.95"/>
<circle cx="98.39" cy="211.91" r="1.85" fill="none" stroke="#3E93D8" stroke-width="0.95"/>
<circle cx="102.52" cy="212.24" r="1.85" fill="none" stroke="#3E93D8" stroke-width="0.95"/>
<circle cx="106.66" cy="212.58" r="1.85" fill="none" stroke="#3E93D8" stroke-width="0.95"/>
<circle cx="110.79" cy="212.95" r="1.85" fill="none" stroke="#3E93D8" stroke-width="0.95"/>
<circle cx="114.92" cy="213.40" r="1.85" fill="none" stroke="#3E93D8" stroke-width="0.95"/>
<circle cx="119.06" cy="213.85" r="1.85" fill="none" stroke="#3E93D8" stroke-width="0.95"/>
<circle cx="123.19" cy="214.30" r="1.85" fill="none" stroke="#3E93D8" stroke-width="0.95"/>
<circle cx="127.33" cy="214.75" r="1.85" fill="none" stroke="#3E93D8" stroke-width="0.95"/>
<circle cx="131.46" cy="215.20" r="1.85" fill="none" stroke="#3E93D8" stroke-width="0.95"/>
<circle cx="135.59" cy="215.57" r="1.85" fill="none" stroke="#3E93D8" stroke-width="0.95"/>
<circle cx="139.73" cy="215.95" r="1.85" fill="none" stroke="#3E93D8" stroke-width="0.95"/>
<circle cx="143.86" cy="216.32" r="1.85" fill="none" stroke="#3E93D8" stroke-width="0.95"/>
<circle cx="148.00" cy="216.70" r="1.85" fill="none" stroke="#3E93D8" stroke-width="0.95"/>
<circle cx="152.13" cy="217.07" r="1.85" fill="none" stroke="#3E93D8" stroke-width="0.95"/>
<circle cx="156.26" cy="217.39" r="1.85" fill="none" stroke="#3E93D8" stroke-width="0.95"/>
<circle cx="160.40" cy="217.67" r="1.85" fill="none" stroke="#3E93D8" stroke-width="0.95"/>
<circle cx="164.53" cy="217.95" r="1.85" fill="none" stroke="#3E93D8" stroke-width="0.95"/>
<circle cx="168.67" cy="218.24" r="1.85" fill="none" stroke="#3E93D8" stroke-width="0.95"/>
<circle cx="172.80" cy="218.52" r="1.85" fill="none" stroke="#3E93D8" stroke-width="0.95"/>
<circle cx="176.93" cy="218.80" r="1.85" fill="none" stroke="#3E93D8" stroke-width="0.95"/>
<circle cx="181.07" cy="207.50" r="1.85" fill="none" stroke="#3E93D8" stroke-width="0.95"/>
<circle cx="185.20" cy="224.90" r="1.85" fill="none" stroke="#3E93D8" stroke-width="0.95"/>
<circle cx="189.34" cy="224.84" r="1.85" fill="none" stroke="#3E93D8" stroke-width="0.95"/>
<circle cx="193.47" cy="224.79" r="1.85" fill="none" stroke="#3E93D8" stroke-width="0.95"/>
<circle cx="197.60" cy="224.73" r="1.85" fill="none" stroke="#3E93D8" stroke-width="0.95"/>
<circle cx="201.74" cy="224.68" r="1.85" fill="none" stroke="#3E93D8" stroke-width="0.95"/>
<circle cx="205.87" cy="224.62" r="1.85" fill="none" stroke="#3E93D8" stroke-width="0.95"/>
<circle cx="210.01" cy="224.55" r="1.85" fill="none" stroke="#3E93D8" stroke-width="0.95"/>
<circle cx="214.14" cy="224.47" r="1.85" fill="none" stroke="#3E93D8" stroke-width="0.95"/>
<circle cx="218.27" cy="224.39" r="1.85" fill="none" stroke="#3E93D8" stroke-width="0.95"/>
<circle cx="222.41" cy="224.31" r="1.85" fill="none" stroke="#3E93D8" stroke-width="0.95"/>
<circle cx="226.54" cy="236.30" r="1.85" fill="none" stroke="#3E93D8" stroke-width="0.95"/>
<circle cx="230.68" cy="224.24" r="1.85" fill="none" stroke="#3E93D8" stroke-width="0.95"/>
<circle cx="234.81" cy="224.30" r="1.85" fill="none" stroke="#3E93D8" stroke-width="0.95"/>
<circle cx="238.94" cy="224.36" r="1.85" fill="none" stroke="#3E93D8" stroke-width="0.95"/>
<circle cx="243.08" cy="224.42" r="1.85" fill="none" stroke="#3E93D8" stroke-width="0.95"/>
<circle cx="247.21" cy="224.48" r="1.85" fill="none" stroke="#3E93D8" stroke-width="0.95"/>
<circle cx="251.35" cy="224.54" r="1.85" fill="none" stroke="#3E93D8" stroke-width="0.95"/>
<circle cx="255.48" cy="224.60" r="1.85" fill="none" stroke="#3E93D8" stroke-width="0.95"/>
<circle cx="259.61" cy="224.67" r="1.85" fill="none" stroke="#3E93D8" stroke-width="0.95"/>
<circle cx="263.75" cy="224.73" r="1.85" fill="none" stroke="#3E93D8" stroke-width="0.95"/>
<circle cx="267.88" cy="224.80" r="1.85" fill="none" stroke="#3E93D8" stroke-width="0.95"/>
<circle cx="272.02" cy="224.87" r="1.85" fill="none" stroke="#3E93D8" stroke-width="0.95"/>
<circle cx="276.15" cy="224.93" r="1.85" fill="none" stroke="#3E93D8" stroke-width="0.95"/>
<circle cx="280.28" cy="225.00" r="1.85" fill="none" stroke="#3E93D8" stroke-width="0.95"/>
<circle cx="284.42" cy="225.07" r="1.85" fill="none" stroke="#3E93D8" stroke-width="0.95"/>
<circle cx="288.55" cy="225.13" r="1.85" fill="none" stroke="#3E93D8" stroke-width="0.95"/>
<circle cx="292.69" cy="225.20" r="1.85" fill="none" stroke="#3E93D8" stroke-width="0.95"/>
<circle cx="296.82" cy="225.27" r="1.85" fill="none" stroke="#3E93D8" stroke-width="0.95"/>
<circle cx="300.95" cy="225.33" r="1.85" fill="none" stroke="#3E93D8" stroke-width="0.95"/>
<circle cx="305.09" cy="225.40" r="1.85" fill="none" stroke="#3E93D8" stroke-width="0.95"/>
<circle cx="309.22" cy="225.47" r="1.85" fill="none" stroke="#3E93D8" stroke-width="0.95"/>
<circle cx="313.36" cy="225.53" r="1.85" fill="none" stroke="#3E93D8" stroke-width="0.95"/>
<circle cx="317.49" cy="225.60" r="1.85" fill="none" stroke="#3E93D8" stroke-width="0.95"/>
<circle cx="321.62" cy="209.00" r="1.85" fill="none" stroke="#3E93D8" stroke-width="0.95"/>
<rect x="34.58" y="271.80" width="3.60" height="3.60" fill="none" stroke="#F9C22A" stroke-width="0.95"/>
<rect x="38.71" y="237.00" width="3.60" height="3.60" fill="none" stroke="#F9C22A" stroke-width="0.95"/>
<rect x="42.85" y="210.90" width="3.60" height="3.60" fill="none" stroke="#F9C22A" stroke-width="0.95"/>
<rect x="46.98" y="211.03" width="3.60" height="3.60" fill="none" stroke="#F9C22A" stroke-width="0.95"/>
<rect x="51.11" y="211.17" width="3.60" height="3.60" fill="none" stroke="#F9C22A" stroke-width="0.95"/>
<rect x="55.25" y="211.30" width="3.60" height="3.60" fill="none" stroke="#F9C22A" stroke-width="0.95"/>
<rect x="59.38" y="211.52" width="3.60" height="3.60" fill="none" stroke="#F9C22A" stroke-width="0.95"/>
<rect x="63.52" y="211.75" width="3.60" height="3.60" fill="none" stroke="#F9C22A" stroke-width="0.95"/>
<rect x="67.65" y="212.00" width="3.60" height="3.60" fill="none" stroke="#F9C22A" stroke-width="0.95"/>
<rect x="71.78" y="212.30" width="3.60" height="3.60" fill="none" stroke="#F9C22A" stroke-width="0.95"/>
<rect x="75.92" y="212.60" width="3.60" height="3.60" fill="none" stroke="#F9C22A" stroke-width="0.95"/>
<rect x="80.05" y="212.90" width="3.60" height="3.60" fill="none" stroke="#F9C22A" stroke-width="0.95"/>
<rect x="84.19" y="213.20" width="3.60" height="3.60" fill="none" stroke="#F9C22A" stroke-width="0.95"/>
<rect x="88.32" y="213.45" width="3.60" height="3.60" fill="none" stroke="#F9C22A" stroke-width="0.95"/>
<rect x="92.45" y="213.69" width="3.60" height="3.60" fill="none" stroke="#F9C22A" stroke-width="0.95"/>
<rect x="96.59" y="213.94" width="3.60" height="3.60" fill="none" stroke="#F9C22A" stroke-width="0.95"/>
<rect x="100.72" y="214.19" width="3.60" height="3.60" fill="none" stroke="#F9C22A" stroke-width="0.95"/>
<rect x="104.86" y="214.44" width="3.60" height="3.60" fill="none" stroke="#F9C22A" stroke-width="0.95"/>
<rect x="108.99" y="214.67" width="3.60" height="3.60" fill="none" stroke="#F9C22A" stroke-width="0.95"/>
<rect x="113.12" y="214.90" width="3.60" height="3.60" fill="none" stroke="#F9C22A" stroke-width="0.95"/>
<rect x="117.26" y="215.12" width="3.60" height="3.60" fill="none" stroke="#F9C22A" stroke-width="0.95"/>
<rect x="121.39" y="215.35" width="3.60" height="3.60" fill="none" stroke="#F9C22A" stroke-width="0.95"/>
<rect x="125.53" y="215.57" width="3.60" height="3.60" fill="none" stroke="#F9C22A" stroke-width="0.95"/>
<rect x="129.66" y="215.80" width="3.60" height="3.60" fill="none" stroke="#F9C22A" stroke-width="0.95"/>
<rect x="133.79" y="216.02" width="3.60" height="3.60" fill="none" stroke="#F9C22A" stroke-width="0.95"/>
<rect x="137.93" y="216.25" width="3.60" height="3.60" fill="none" stroke="#F9C22A" stroke-width="0.95"/>
<rect x="142.06" y="216.47" width="3.60" height="3.60" fill="none" stroke="#F9C22A" stroke-width="0.95"/>
<rect x="146.20" y="216.70" width="3.60" height="3.60" fill="none" stroke="#F9C22A" stroke-width="0.95"/>
<rect x="150.33" y="216.93" width="3.60" height="3.60" fill="none" stroke="#F9C22A" stroke-width="0.95"/>
<rect x="154.46" y="217.21" width="3.60" height="3.60" fill="none" stroke="#F9C22A" stroke-width="0.95"/>
<rect x="158.60" y="217.53" width="3.60" height="3.60" fill="none" stroke="#F9C22A" stroke-width="0.95"/>
<rect x="162.73" y="217.85" width="3.60" height="3.60" fill="none" stroke="#F9C22A" stroke-width="0.95"/>
<rect x="166.87" y="218.16" width="3.60" height="3.60" fill="none" stroke="#F9C22A" stroke-width="0.95"/>
<rect x="171.00" y="218.48" width="3.60" height="3.60" fill="none" stroke="#F9C22A" stroke-width="0.95"/>
<rect x="175.13" y="218.80" width="3.60" height="3.60" fill="none" stroke="#F9C22A" stroke-width="0.95"/>
<rect x="179.27" y="207.20" width="3.60" height="3.60" fill="none" stroke="#F9C22A" stroke-width="0.95"/>
<rect x="183.40" y="220.00" width="3.60" height="3.60" fill="none" stroke="#F9C22A" stroke-width="0.95"/>
<rect x="187.54" y="220.20" width="3.60" height="3.60" fill="none" stroke="#F9C22A" stroke-width="0.95"/>
<rect x="191.67" y="220.40" width="3.60" height="3.60" fill="none" stroke="#F9C22A" stroke-width="0.95"/>
<rect x="195.80" y="220.60" width="3.60" height="3.60" fill="none" stroke="#F9C22A" stroke-width="0.95"/>
<rect x="199.94" y="220.80" width="3.60" height="3.60" fill="none" stroke="#F9C22A" stroke-width="0.95"/>
<rect x="204.07" y="221.00" width="3.60" height="3.60" fill="none" stroke="#F9C22A" stroke-width="0.95"/>
<rect x="208.21" y="221.20" width="3.60" height="3.60" fill="none" stroke="#F9C22A" stroke-width="0.95"/>
<rect x="212.34" y="221.40" width="3.60" height="3.60" fill="none" stroke="#F9C22A" stroke-width="0.95"/>
<rect x="216.47" y="221.60" width="3.60" height="3.60" fill="none" stroke="#F9C22A" stroke-width="0.95"/>
<rect x="220.61" y="221.80" width="3.60" height="3.60" fill="none" stroke="#F9C22A" stroke-width="0.95"/>
<rect x="224.74" y="222.00" width="3.60" height="3.60" fill="none" stroke="#F9C22A" stroke-width="0.95"/>
<rect x="228.88" y="222.20" width="3.60" height="3.60" fill="none" stroke="#F9C22A" stroke-width="0.95"/>
<rect x="233.01" y="222.40" width="3.60" height="3.60" fill="none" stroke="#F9C22A" stroke-width="0.95"/>
<rect x="237.14" y="222.60" width="3.60" height="3.60" fill="none" stroke="#F9C22A" stroke-width="0.95"/>
<rect x="241.28" y="222.80" width="3.60" height="3.60" fill="none" stroke="#F9C22A" stroke-width="0.95"/>
<rect x="245.41" y="223.00" width="3.60" height="3.60" fill="none" stroke="#F9C22A" stroke-width="0.95"/>
<rect x="249.55" y="223.20" width="3.60" height="3.60" fill="none" stroke="#F9C22A" stroke-width="0.95"/>
<rect x="253.68" y="223.40" width="3.60" height="3.60" fill="none" stroke="#F9C22A" stroke-width="0.95"/>
<rect x="257.81" y="223.52" width="3.60" height="3.60" fill="none" stroke="#F9C22A" stroke-width="0.95"/>
<rect x="261.95" y="223.64" width="3.60" height="3.60" fill="none" stroke="#F9C22A" stroke-width="0.95"/>
<rect x="266.08" y="223.76" width="3.60" height="3.60" fill="none" stroke="#F9C22A" stroke-width="0.95"/>
<rect x="270.22" y="223.88" width="3.60" height="3.60" fill="none" stroke="#F9C22A" stroke-width="0.95"/>
<rect x="274.35" y="224.00" width="3.60" height="3.60" fill="none" stroke="#F9C22A" stroke-width="0.95"/>
<rect x="278.48" y="224.12" width="3.60" height="3.60" fill="none" stroke="#F9C22A" stroke-width="0.95"/>
<rect x="282.62" y="224.24" width="3.60" height="3.60" fill="none" stroke="#F9C22A" stroke-width="0.95"/>
<rect x="286.75" y="224.36" width="3.60" height="3.60" fill="none" stroke="#F9C22A" stroke-width="0.95"/>
<rect x="290.89" y="224.48" width="3.60" height="3.60" fill="none" stroke="#F9C22A" stroke-width="0.95"/>
<rect x="295.02" y="224.60" width="3.60" height="3.60" fill="none" stroke="#F9C22A" stroke-width="0.95"/>
<rect x="299.15" y="224.72" width="3.60" height="3.60" fill="none" stroke="#F9C22A" stroke-width="0.95"/>
<rect x="303.29" y="224.84" width="3.60" height="3.60" fill="none" stroke="#F9C22A" stroke-width="0.95"/>
<rect x="307.42" y="224.96" width="3.60" height="3.60" fill="none" stroke="#F9C22A" stroke-width="0.95"/>
<rect x="311.56" y="225.08" width="3.60" height="3.60" fill="none" stroke="#F9C22A" stroke-width="0.95"/>
<rect x="315.69" y="225.20" width="3.60" height="3.60" fill="none" stroke="#F9C22A" stroke-width="0.95"/>
<rect x="319.82" y="206.20" width="3.60" height="3.60" fill="none" stroke="#F9C22A" stroke-width="0.95"/>
<path d="M40.51,238.40V244.80 M44.65,171.20V177.60 M48.78,171.20V177.60 M52.91,171.20V177.60 M57.05,171.20V177.60 M61.18,171.20V177.60 M65.32,171.20V177.60 M69.45,171.20V177.60 M73.58,171.20V177.60 M77.72,171.20V177.60 M81.85,178.20V184.60 M85.99,171.20V177.60 M90.12,171.20V177.60 M94.25,171.20V177.60 M98.39,171.20V177.60 M102.52,171.20V177.60 M106.66,171.20V177.60 M110.79,171.20V177.60 M114.92,171.20V177.60 M119.06,171.20V177.60 M123.19,171.20V177.60 M127.33,171.20V177.60 M131.46,171.20V177.60 M135.59,171.20V177.60 M139.73,171.20V177.60 M143.86,171.20V177.60 M148.00,171.20V177.60 M152.13,171.20V177.60 M156.26,171.20V177.60 M160.40,171.20V177.60 M164.53,171.20V177.60 M168.67,171.20V177.60 M172.80,171.20V177.60 M176.93,171.20V177.60 M185.20,171.20V177.60 M189.34,171.20V177.60 M193.47,171.20V177.60 M197.60,171.20V177.60 M201.74,171.20V177.60 M205.87,171.20V177.60 M210.01,171.20V177.60 M214.14,171.20V177.60 M218.27,171.20V177.60 M222.41,171.20V177.60 M226.54,171.20V177.60 M230.68,171.20V177.60 M234.81,171.20V177.60 M238.94,171.20V177.60 M243.08,171.20V177.60 M247.21,171.20V177.60 M251.35,171.20V177.60 M255.48,171.20V177.60 M259.61,171.20V177.60 M263.75,171.20V177.60 M267.88,171.20V177.60 M272.02,171.20V177.60 M276.15,171.20V177.60 M280.28,171.20V177.60 M284.42,171.20V177.60 M288.55,171.20V177.60 M292.69,171.20V177.60 M296.82,171.20V177.60 M300.95,171.20V177.60 M305.09,171.20V177.60 M309.22,171.20V177.60 M313.36,171.20V177.60 M317.49,171.20V177.60" stroke="#a0a0a0" stroke-width="0.6" fill="none"/>
<path d="M40.51,239.00V245.00 M44.65,168.70V174.70 M48.78,168.70V174.70 M52.91,168.70V174.70 M57.05,168.70V174.70 M61.18,168.70V174.70 M65.32,168.70V174.70 M69.45,168.70V174.70 M73.58,168.70V174.70 M77.72,168.70V174.70 M81.85,173.30V179.30 M85.99,168.70V174.70 M90.12,168.70V174.70 M94.25,168.70V174.70 M98.39,168.70V174.70 M102.52,168.70V174.70 M106.66,168.70V174.70 M110.79,168.70V174.70 M114.92,168.70V174.70 M119.06,168.70V174.70 M123.19,168.70V174.70 M127.33,168.70V174.70 M131.46,168.70V174.70 M135.59,168.70V174.70 M139.73,168.70V174.70 M143.86,168.70V174.70 M148.00,168.70V174.70 M152.13,168.70V174.70 M156.26,168.70V174.70 M160.40,168.70V174.70 M164.53,168.70V174.70 M168.67,168.70V174.70 M172.80,168.70V174.70 M176.93,168.70V174.70 M185.20,168.70V174.70 M189.34,168.70V174.70 M193.47,168.70V174.70 M197.60,168.70V174.70 M201.74,168.70V174.70 M205.87,168.70V174.70 M210.01,168.70V174.70 M214.14,168.70V174.70 M218.27,168.70V174.70 M222.41,168.70V174.70 M226.54,168.70V174.70 M230.68,168.70V174.70 M234.81,168.70V174.70 M238.94,168.70V174.70 M243.08,168.70V174.70 M247.21,168.70V174.70 M251.35,168.70V174.70 M255.48,168.70V174.70 M259.61,168.70V174.70 M263.75,168.70V174.70 M267.88,168.70V174.70 M272.02,168.70V174.70 M276.15,168.70V174.70 M280.28,168.70V174.70 M284.42,168.70V174.70 M288.55,168.70V174.70 M292.69,168.70V174.70 M296.82,168.70V174.70 M300.95,175.50V181.50 M305.09,168.70V174.70 M309.22,168.70V174.70 M313.36,168.70V174.70 M317.49,168.70V174.70" stroke="#a0a0a0" stroke-width="0.6" fill="none"/>
<path d="M181.07,177.50V189.50" stroke="#a0a0a0" stroke-width="0.6" fill="none"/>
<polygon points="33.73,258.43 39.03,258.43 36.38,262.77" fill="#F57A0A" stroke="#2a1f08" stroke-width="0.55"/>
<polygon points="37.86,239.43 43.16,239.43 40.51,243.77" fill="#F57A0A" stroke="#2a1f08" stroke-width="0.55"/>
<polygon points="42.00,172.23 47.30,172.23 44.65,176.57" fill="#F57A0A" stroke="#2a1f08" stroke-width="0.55"/>
<polygon points="46.13,172.23 51.43,172.23 48.78,176.57" fill="#F57A0A" stroke="#2a1f08" stroke-width="0.55"/>
<polygon points="50.26,172.23 55.56,172.23 52.91,176.57" fill="#F57A0A" stroke="#2a1f08" stroke-width="0.55"/>
<polygon points="54.40,172.23 59.70,172.23 57.05,176.57" fill="#F57A0A" stroke="#2a1f08" stroke-width="0.55"/>
<polygon points="58.53,172.23 63.83,172.23 61.18,176.57" fill="#F57A0A" stroke="#2a1f08" stroke-width="0.55"/>
<polygon points="62.67,172.23 67.97,172.23 65.32,176.57" fill="#F57A0A" stroke="#2a1f08" stroke-width="0.55"/>
<polygon points="66.80,172.23 72.10,172.23 69.45,176.57" fill="#F57A0A" stroke="#2a1f08" stroke-width="0.55"/>
<polygon points="70.93,172.23 76.23,172.23 73.58,176.57" fill="#F57A0A" stroke="#2a1f08" stroke-width="0.55"/>
<polygon points="75.07,172.23 80.37,172.23 77.72,176.57" fill="#F57A0A" stroke="#2a1f08" stroke-width="0.55"/>
<polygon points="79.20,179.23 84.50,179.23 81.85,183.57" fill="#F57A0A" stroke="#2a1f08" stroke-width="0.55"/>
<polygon points="83.34,172.23 88.64,172.23 85.99,176.57" fill="#F57A0A" stroke="#2a1f08" stroke-width="0.55"/>
<polygon points="87.47,172.23 92.77,172.23 90.12,176.57" fill="#F57A0A" stroke="#2a1f08" stroke-width="0.55"/>
<polygon points="91.60,172.23 96.90,172.23 94.25,176.57" fill="#F57A0A" stroke="#2a1f08" stroke-width="0.55"/>
<polygon points="95.74,172.23 101.04,172.23 98.39,176.57" fill="#F57A0A" stroke="#2a1f08" stroke-width="0.55"/>
<polygon points="99.87,172.23 105.17,172.23 102.52,176.57" fill="#F57A0A" stroke="#2a1f08" stroke-width="0.55"/>
<polygon points="104.01,172.23 109.31,172.23 106.66,176.57" fill="#F57A0A" stroke="#2a1f08" stroke-width="0.55"/>
<polygon points="108.14,172.23 113.44,172.23 110.79,176.57" fill="#F57A0A" stroke="#2a1f08" stroke-width="0.55"/>
<polygon points="112.27,172.23 117.57,172.23 114.92,176.57" fill="#F57A0A" stroke="#2a1f08" stroke-width="0.55"/>
<polygon points="116.41,172.23 121.71,172.23 119.06,176.57" fill="#F57A0A" stroke="#2a1f08" stroke-width="0.55"/>
<polygon points="120.54,172.23 125.84,172.23 123.19,176.57" fill="#F57A0A" stroke="#2a1f08" stroke-width="0.55"/>
<polygon points="124.68,172.23 129.98,172.23 127.33,176.57" fill="#F57A0A" stroke="#2a1f08" stroke-width="0.55"/>
<polygon points="128.81,172.23 134.11,172.23 131.46,176.57" fill="#F57A0A" stroke="#2a1f08" stroke-width="0.55"/>
<polygon points="132.94,172.23 138.24,172.23 135.59,176.57" fill="#F57A0A" stroke="#2a1f08" stroke-width="0.55"/>
<polygon points="137.08,172.23 142.38,172.23 139.73,176.57" fill="#F57A0A" stroke="#2a1f08" stroke-width="0.55"/>
<polygon points="141.21,172.23 146.51,172.23 143.86,176.57" fill="#F57A0A" stroke="#2a1f08" stroke-width="0.55"/>
<polygon points="145.35,172.23 150.65,172.23 148.00,176.57" fill="#F57A0A" stroke="#2a1f08" stroke-width="0.55"/>
<polygon points="149.48,172.23 154.78,172.23 152.13,176.57" fill="#F57A0A" stroke="#2a1f08" stroke-width="0.55"/>
<polygon points="153.61,172.23 158.91,172.23 156.26,176.57" fill="#F57A0A" stroke="#2a1f08" stroke-width="0.55"/>
<polygon points="157.75,172.23 163.05,172.23 160.40,176.57" fill="#F57A0A" stroke="#2a1f08" stroke-width="0.55"/>
<polygon points="161.88,172.23 167.18,172.23 164.53,176.57" fill="#F57A0A" stroke="#2a1f08" stroke-width="0.55"/>
<polygon points="166.02,172.23 171.32,172.23 168.67,176.57" fill="#F57A0A" stroke="#2a1f08" stroke-width="0.55"/>
<polygon points="170.15,172.23 175.45,172.23 172.80,176.57" fill="#F57A0A" stroke="#2a1f08" stroke-width="0.55"/>
<polygon points="174.28,172.23 179.58,172.23 176.93,176.57" fill="#F57A0A" stroke="#2a1f08" stroke-width="0.55"/>
<polygon points="178.42,179.83 183.72,179.83 181.07,184.17" fill="#F57A0A" stroke="#2a1f08" stroke-width="0.55"/>
<polygon points="182.55,172.23 187.85,172.23 185.20,176.57" fill="#F57A0A" stroke="#2a1f08" stroke-width="0.55"/>
<polygon points="186.69,172.23 191.99,172.23 189.34,176.57" fill="#F57A0A" stroke="#2a1f08" stroke-width="0.55"/>
<polygon points="190.82,172.23 196.12,172.23 193.47,176.57" fill="#F57A0A" stroke="#2a1f08" stroke-width="0.55"/>
<polygon points="194.95,172.23 200.25,172.23 197.60,176.57" fill="#F57A0A" stroke="#2a1f08" stroke-width="0.55"/>
<polygon points="199.09,172.23 204.39,172.23 201.74,176.57" fill="#F57A0A" stroke="#2a1f08" stroke-width="0.55"/>
<polygon points="203.22,172.23 208.52,172.23 205.87,176.57" fill="#F57A0A" stroke="#2a1f08" stroke-width="0.55"/>
<polygon points="207.36,172.23 212.66,172.23 210.01,176.57" fill="#F57A0A" stroke="#2a1f08" stroke-width="0.55"/>
<polygon points="211.49,172.23 216.79,172.23 214.14,176.57" fill="#F57A0A" stroke="#2a1f08" stroke-width="0.55"/>
<polygon points="215.62,172.23 220.92,172.23 218.27,176.57" fill="#F57A0A" stroke="#2a1f08" stroke-width="0.55"/>
<polygon points="219.76,172.23 225.06,172.23 222.41,176.57" fill="#F57A0A" stroke="#2a1f08" stroke-width="0.55"/>
<polygon points="223.89,172.23 229.19,172.23 226.54,176.57" fill="#F57A0A" stroke="#2a1f08" stroke-width="0.55"/>
<polygon points="228.03,172.23 233.33,172.23 230.68,176.57" fill="#F57A0A" stroke="#2a1f08" stroke-width="0.55"/>
<polygon points="232.16,172.23 237.46,172.23 234.81,176.57" fill="#F57A0A" stroke="#2a1f08" stroke-width="0.55"/>
<polygon points="236.29,172.23 241.59,172.23 238.94,176.57" fill="#F57A0A" stroke="#2a1f08" stroke-width="0.55"/>
<polygon points="240.43,172.23 245.73,172.23 243.08,176.57" fill="#F57A0A" stroke="#2a1f08" stroke-width="0.55"/>
<polygon points="244.56,172.23 249.86,172.23 247.21,176.57" fill="#F57A0A" stroke="#2a1f08" stroke-width="0.55"/>
<polygon points="248.70,172.23 254.00,172.23 251.35,176.57" fill="#F57A0A" stroke="#2a1f08" stroke-width="0.55"/>
<polygon points="252.83,172.23 258.13,172.23 255.48,176.57" fill="#F57A0A" stroke="#2a1f08" stroke-width="0.55"/>
<polygon points="256.96,172.23 262.26,172.23 259.61,176.57" fill="#F57A0A" stroke="#2a1f08" stroke-width="0.55"/>
<polygon points="261.10,172.23 266.40,172.23 263.75,176.57" fill="#F57A0A" stroke="#2a1f08" stroke-width="0.55"/>
<polygon points="265.23,172.23 270.53,172.23 267.88,176.57" fill="#F57A0A" stroke="#2a1f08" stroke-width="0.55"/>
<polygon points="269.37,172.23 274.67,172.23 272.02,176.57" fill="#F57A0A" stroke="#2a1f08" stroke-width="0.55"/>
<polygon points="273.50,172.23 278.80,172.23 276.15,176.57" fill="#F57A0A" stroke="#2a1f08" stroke-width="0.55"/>
<polygon points="277.63,172.23 282.93,172.23 280.28,176.57" fill="#F57A0A" stroke="#2a1f08" stroke-width="0.55"/>
<polygon points="281.77,172.23 287.07,172.23 284.42,176.57" fill="#F57A0A" stroke="#2a1f08" stroke-width="0.55"/>
<polygon points="285.90,172.23 291.20,172.23 288.55,176.57" fill="#F57A0A" stroke="#2a1f08" stroke-width="0.55"/>
<polygon points="290.04,172.23 295.34,172.23 292.69,176.57" fill="#F57A0A" stroke="#2a1f08" stroke-width="0.55"/>
<polygon points="294.17,172.23 299.47,172.23 296.82,176.57" fill="#F57A0A" stroke="#2a1f08" stroke-width="0.55"/>
<polygon points="298.30,172.23 303.60,172.23 300.95,176.57" fill="#F57A0A" stroke="#2a1f08" stroke-width="0.55"/>
<polygon points="302.44,172.23 307.74,172.23 305.09,176.57" fill="#F57A0A" stroke="#2a1f08" stroke-width="0.55"/>
<polygon points="306.57,172.23 311.87,172.23 309.22,176.57" fill="#F57A0A" stroke="#2a1f08" stroke-width="0.55"/>
<polygon points="310.71,172.23 316.01,172.23 313.36,176.57" fill="#F57A0A" stroke="#2a1f08" stroke-width="0.55"/>
<polygon points="314.84,172.23 320.14,172.23 317.49,176.57" fill="#F57A0A" stroke="#2a1f08" stroke-width="0.55"/>
<polygon points="318.97,174.33 324.27,174.33 321.62,178.67" fill="#F57A0A" stroke="#2a1f08" stroke-width="0.55"/>
<circle cx="36.38" cy="238.50" r="2.30" fill="#2084D3" stroke="#2a1f08" stroke-width="0.55"/>
<circle cx="40.51" cy="242.00" r="2.30" fill="#2084D3" stroke="#2a1f08" stroke-width="0.55"/>
<circle cx="44.65" cy="171.70" r="2.30" fill="#2084D3" stroke="#2a1f08" stroke-width="0.55"/>
<circle cx="48.78" cy="171.70" r="2.30" fill="#2084D3" stroke="#2a1f08" stroke-width="0.55"/>
<circle cx="52.91" cy="171.70" r="2.30" fill="#2084D3" stroke="#2a1f08" stroke-width="0.55"/>
<circle cx="57.05" cy="171.70" r="2.30" fill="#2084D3" stroke="#2a1f08" stroke-width="0.55"/>
<circle cx="61.18" cy="171.70" r="2.30" fill="#2084D3" stroke="#2a1f08" stroke-width="0.55"/>
<circle cx="65.32" cy="171.70" r="2.30" fill="#2084D3" stroke="#2a1f08" stroke-width="0.55"/>
<circle cx="69.45" cy="171.70" r="2.30" fill="#2084D3" stroke="#2a1f08" stroke-width="0.55"/>
<circle cx="73.58" cy="171.70" r="2.30" fill="#2084D3" stroke="#2a1f08" stroke-width="0.55"/>
<circle cx="77.72" cy="171.70" r="2.30" fill="#2084D3" stroke="#2a1f08" stroke-width="0.55"/>
<circle cx="81.85" cy="176.30" r="2.30" fill="#2084D3" stroke="#2a1f08" stroke-width="0.55"/>
<circle cx="85.99" cy="171.70" r="2.30" fill="#2084D3" stroke="#2a1f08" stroke-width="0.55"/>
<circle cx="90.12" cy="171.70" r="2.30" fill="#2084D3" stroke="#2a1f08" stroke-width="0.55"/>
<circle cx="94.25" cy="171.70" r="2.30" fill="#2084D3" stroke="#2a1f08" stroke-width="0.55"/>
<circle cx="98.39" cy="171.70" r="2.30" fill="#2084D3" stroke="#2a1f08" stroke-width="0.55"/>
<circle cx="102.52" cy="171.70" r="2.30" fill="#2084D3" stroke="#2a1f08" stroke-width="0.55"/>
<circle cx="106.66" cy="171.70" r="2.30" fill="#2084D3" stroke="#2a1f08" stroke-width="0.55"/>
<circle cx="110.79" cy="171.70" r="2.30" fill="#2084D3" stroke="#2a1f08" stroke-width="0.55"/>
<circle cx="114.92" cy="171.70" r="2.30" fill="#2084D3" stroke="#2a1f08" stroke-width="0.55"/>
<circle cx="119.06" cy="171.70" r="2.30" fill="#2084D3" stroke="#2a1f08" stroke-width="0.55"/>
<circle cx="123.19" cy="171.70" r="2.30" fill="#2084D3" stroke="#2a1f08" stroke-width="0.55"/>
<circle cx="127.33" cy="171.70" r="2.30" fill="#2084D3" stroke="#2a1f08" stroke-width="0.55"/>
<circle cx="131.46" cy="171.70" r="2.30" fill="#2084D3" stroke="#2a1f08" stroke-width="0.55"/>
<circle cx="135.59" cy="171.70" r="2.30" fill="#2084D3" stroke="#2a1f08" stroke-width="0.55"/>
<circle cx="139.73" cy="171.70" r="2.30" fill="#2084D3" stroke="#2a1f08" stroke-width="0.55"/>
<circle cx="143.86" cy="171.70" r="2.30" fill="#2084D3" stroke="#2a1f08" stroke-width="0.55"/>
<circle cx="148.00" cy="171.70" r="2.30" fill="#2084D3" stroke="#2a1f08" stroke-width="0.55"/>
<circle cx="152.13" cy="171.70" r="2.30" fill="#2084D3" stroke="#2a1f08" stroke-width="0.55"/>
<circle cx="156.26" cy="171.70" r="2.30" fill="#2084D3" stroke="#2a1f08" stroke-width="0.55"/>
<circle cx="160.40" cy="171.70" r="2.30" fill="#2084D3" stroke="#2a1f08" stroke-width="0.55"/>
<circle cx="164.53" cy="171.70" r="2.30" fill="#2084D3" stroke="#2a1f08" stroke-width="0.55"/>
<circle cx="168.67" cy="171.70" r="2.30" fill="#2084D3" stroke="#2a1f08" stroke-width="0.55"/>
<circle cx="172.80" cy="171.70" r="2.30" fill="#2084D3" stroke="#2a1f08" stroke-width="0.55"/>
<circle cx="176.93" cy="171.70" r="2.30" fill="#2084D3" stroke="#2a1f08" stroke-width="0.55"/>
<circle cx="181.07" cy="181.20" r="2.30" fill="#2084D3" stroke="#2a1f08" stroke-width="0.55"/>
<circle cx="185.20" cy="171.70" r="2.30" fill="#2084D3" stroke="#2a1f08" stroke-width="0.55"/>
<circle cx="189.34" cy="171.70" r="2.30" fill="#2084D3" stroke="#2a1f08" stroke-width="0.55"/>
<circle cx="193.47" cy="171.70" r="2.30" fill="#2084D3" stroke="#2a1f08" stroke-width="0.55"/>
<circle cx="197.60" cy="171.70" r="2.30" fill="#2084D3" stroke="#2a1f08" stroke-width="0.55"/>
<circle cx="201.74" cy="171.70" r="2.30" fill="#2084D3" stroke="#2a1f08" stroke-width="0.55"/>
<circle cx="205.87" cy="171.70" r="2.30" fill="#2084D3" stroke="#2a1f08" stroke-width="0.55"/>
<circle cx="210.01" cy="171.70" r="2.30" fill="#2084D3" stroke="#2a1f08" stroke-width="0.55"/>
<circle cx="214.14" cy="171.70" r="2.30" fill="#2084D3" stroke="#2a1f08" stroke-width="0.55"/>
<circle cx="218.27" cy="171.70" r="2.30" fill="#2084D3" stroke="#2a1f08" stroke-width="0.55"/>
<circle cx="222.41" cy="171.70" r="2.30" fill="#2084D3" stroke="#2a1f08" stroke-width="0.55"/>
<circle cx="226.54" cy="171.70" r="2.30" fill="#2084D3" stroke="#2a1f08" stroke-width="0.55"/>
<circle cx="230.68" cy="171.70" r="2.30" fill="#2084D3" stroke="#2a1f08" stroke-width="0.55"/>
<circle cx="234.81" cy="171.70" r="2.30" fill="#2084D3" stroke="#2a1f08" stroke-width="0.55"/>
<circle cx="238.94" cy="171.70" r="2.30" fill="#2084D3" stroke="#2a1f08" stroke-width="0.55"/>
<circle cx="243.08" cy="171.70" r="2.30" fill="#2084D3" stroke="#2a1f08" stroke-width="0.55"/>
<circle cx="247.21" cy="171.70" r="2.30" fill="#2084D3" stroke="#2a1f08" stroke-width="0.55"/>
<circle cx="251.35" cy="171.70" r="2.30" fill="#2084D3" stroke="#2a1f08" stroke-width="0.55"/>
<circle cx="255.48" cy="171.70" r="2.30" fill="#2084D3" stroke="#2a1f08" stroke-width="0.55"/>
<circle cx="259.61" cy="171.70" r="2.30" fill="#2084D3" stroke="#2a1f08" stroke-width="0.55"/>
<circle cx="263.75" cy="171.70" r="2.30" fill="#2084D3" stroke="#2a1f08" stroke-width="0.55"/>
<circle cx="267.88" cy="171.70" r="2.30" fill="#2084D3" stroke="#2a1f08" stroke-width="0.55"/>
<circle cx="272.02" cy="171.70" r="2.30" fill="#2084D3" stroke="#2a1f08" stroke-width="0.55"/>
<circle cx="276.15" cy="171.70" r="2.30" fill="#2084D3" stroke="#2a1f08" stroke-width="0.55"/>
<circle cx="280.28" cy="171.70" r="2.30" fill="#2084D3" stroke="#2a1f08" stroke-width="0.55"/>
<circle cx="284.42" cy="171.70" r="2.30" fill="#2084D3" stroke="#2a1f08" stroke-width="0.55"/>
<circle cx="288.55" cy="171.70" r="2.30" fill="#2084D3" stroke="#2a1f08" stroke-width="0.55"/>
<circle cx="292.69" cy="171.70" r="2.30" fill="#2084D3" stroke="#2a1f08" stroke-width="0.55"/>
<circle cx="296.82" cy="171.70" r="2.30" fill="#2084D3" stroke="#2a1f08" stroke-width="0.55"/>
<circle cx="300.95" cy="178.50" r="2.30" fill="#2084D3" stroke="#2a1f08" stroke-width="0.55"/>
<circle cx="305.09" cy="171.70" r="2.30" fill="#2084D3" stroke="#2a1f08" stroke-width="0.55"/>
<circle cx="309.22" cy="171.70" r="2.30" fill="#2084D3" stroke="#2a1f08" stroke-width="0.55"/>
<circle cx="313.36" cy="171.70" r="2.30" fill="#2084D3" stroke="#2a1f08" stroke-width="0.55"/>
<circle cx="317.49" cy="171.70" r="2.30" fill="#2084D3" stroke="#2a1f08" stroke-width="0.55"/>
<circle cx="321.62" cy="172.00" r="2.30" fill="#2084D3" stroke="#2a1f08" stroke-width="0.55"/>
<rect x="34.38" y="203.00" width="4.00" height="4.00" fill="#F9C600" stroke="#2a1f08" stroke-width="0.55"/>
<rect x="38.51" y="217.30" width="4.00" height="4.00" fill="#F9C600" stroke="#2a1f08" stroke-width="0.55"/>
<rect x="42.65" y="171.00" width="4.00" height="4.00" fill="#F9C600" stroke="#2a1f08" stroke-width="0.55"/>
<rect x="46.78" y="171.00" width="4.00" height="4.00" fill="#F9C600" stroke="#2a1f08" stroke-width="0.55"/>
<rect x="50.91" y="171.00" width="4.00" height="4.00" fill="#F9C600" stroke="#2a1f08" stroke-width="0.55"/>
<rect x="55.05" y="171.00" width="4.00" height="4.00" fill="#F9C600" stroke="#2a1f08" stroke-width="0.55"/>
<rect x="59.18" y="171.00" width="4.00" height="4.00" fill="#F9C600" stroke="#2a1f08" stroke-width="0.55"/>
<rect x="63.32" y="171.00" width="4.00" height="4.00" fill="#F9C600" stroke="#2a1f08" stroke-width="0.55"/>
<rect x="67.45" y="171.00" width="4.00" height="4.00" fill="#F9C600" stroke="#2a1f08" stroke-width="0.55"/>
<rect x="71.58" y="171.00" width="4.00" height="4.00" fill="#F9C600" stroke="#2a1f08" stroke-width="0.55"/>
<rect x="75.72" y="171.00" width="4.00" height="4.00" fill="#F9C600" stroke="#2a1f08" stroke-width="0.55"/>
<rect x="79.85" y="171.00" width="4.00" height="4.00" fill="#F9C600" stroke="#2a1f08" stroke-width="0.55"/>
<rect x="83.99" y="171.00" width="4.00" height="4.00" fill="#F9C600" stroke="#2a1f08" stroke-width="0.55"/>
<rect x="88.12" y="171.00" width="4.00" height="4.00" fill="#F9C600" stroke="#2a1f08" stroke-width="0.55"/>
<rect x="92.25" y="171.00" width="4.00" height="4.00" fill="#F9C600" stroke="#2a1f08" stroke-width="0.55"/>
<rect x="96.39" y="171.00" width="4.00" height="4.00" fill="#F9C600" stroke="#2a1f08" stroke-width="0.55"/>
<rect x="100.52" y="171.00" width="4.00" height="4.00" fill="#F9C600" stroke="#2a1f08" stroke-width="0.55"/>
<rect x="104.66" y="171.00" width="4.00" height="4.00" fill="#F9C600" stroke="#2a1f08" stroke-width="0.55"/>
<rect x="108.79" y="171.00" width="4.00" height="4.00" fill="#F9C600" stroke="#2a1f08" stroke-width="0.55"/>
<rect x="112.92" y="171.00" width="4.00" height="4.00" fill="#F9C600" stroke="#2a1f08" stroke-width="0.55"/>
<rect x="117.06" y="171.00" width="4.00" height="4.00" fill="#F9C600" stroke="#2a1f08" stroke-width="0.55"/>
<rect x="121.19" y="171.00" width="4.00" height="4.00" fill="#F9C600" stroke="#2a1f08" stroke-width="0.55"/>
<rect x="125.33" y="171.00" width="4.00" height="4.00" fill="#F9C600" stroke="#2a1f08" stroke-width="0.55"/>
<rect x="129.46" y="171.00" width="4.00" height="4.00" fill="#F9C600" stroke="#2a1f08" stroke-width="0.55"/>
<rect x="133.59" y="171.00" width="4.00" height="4.00" fill="#F9C600" stroke="#2a1f08" stroke-width="0.55"/>
<rect x="137.73" y="171.00" width="4.00" height="4.00" fill="#F9C600" stroke="#2a1f08" stroke-width="0.55"/>
<rect x="141.86" y="171.00" width="4.00" height="4.00" fill="#F9C600" stroke="#2a1f08" stroke-width="0.55"/>
<rect x="146.00" y="171.00" width="4.00" height="4.00" fill="#F9C600" stroke="#2a1f08" stroke-width="0.55"/>
<rect x="150.13" y="171.00" width="4.00" height="4.00" fill="#F9C600" stroke="#2a1f08" stroke-width="0.55"/>
<rect x="154.26" y="171.00" width="4.00" height="4.00" fill="#F9C600" stroke="#2a1f08" stroke-width="0.55"/>
<rect x="158.40" y="171.00" width="4.00" height="4.00" fill="#F9C600" stroke="#2a1f08" stroke-width="0.55"/>
<rect x="162.53" y="171.00" width="4.00" height="4.00" fill="#F9C600" stroke="#2a1f08" stroke-width="0.55"/>
<rect x="166.67" y="171.00" width="4.00" height="4.00" fill="#F9C600" stroke="#2a1f08" stroke-width="0.55"/>
<rect x="170.80" y="171.00" width="4.00" height="4.00" fill="#F9C600" stroke="#2a1f08" stroke-width="0.55"/>
<rect x="174.93" y="171.00" width="4.00" height="4.00" fill="#F9C600" stroke="#2a1f08" stroke-width="0.55"/>
<rect x="179.07" y="182.00" width="4.00" height="4.00" fill="#F9C600" stroke="#2a1f08" stroke-width="0.55"/>
<rect x="183.20" y="171.00" width="4.00" height="4.00" fill="#F9C600" stroke="#2a1f08" stroke-width="0.55"/>
<rect x="187.34" y="171.00" width="4.00" height="4.00" fill="#F9C600" stroke="#2a1f08" stroke-width="0.55"/>
<rect x="191.47" y="171.00" width="4.00" height="4.00" fill="#F9C600" stroke="#2a1f08" stroke-width="0.55"/>
<rect x="195.60" y="171.00" width="4.00" height="4.00" fill="#F9C600" stroke="#2a1f08" stroke-width="0.55"/>
<rect x="199.74" y="171.00" width="4.00" height="4.00" fill="#F9C600" stroke="#2a1f08" stroke-width="0.55"/>
<rect x="203.87" y="171.00" width="4.00" height="4.00" fill="#F9C600" stroke="#2a1f08" stroke-width="0.55"/>
<rect x="208.01" y="171.00" width="4.00" height="4.00" fill="#F9C600" stroke="#2a1f08" stroke-width="0.55"/>
<rect x="212.14" y="171.00" width="4.00" height="4.00" fill="#F9C600" stroke="#2a1f08" stroke-width="0.55"/>
<rect x="216.27" y="171.00" width="4.00" height="4.00" fill="#F9C600" stroke="#2a1f08" stroke-width="0.55"/>
<rect x="220.41" y="171.00" width="4.00" height="4.00" fill="#F9C600" stroke="#2a1f08" stroke-width="0.55"/>
<rect x="224.54" y="171.00" width="4.00" height="4.00" fill="#F9C600" stroke="#2a1f08" stroke-width="0.55"/>
<rect x="228.68" y="171.00" width="4.00" height="4.00" fill="#F9C600" stroke="#2a1f08" stroke-width="0.55"/>
<rect x="232.81" y="171.00" width="4.00" height="4.00" fill="#F9C600" stroke="#2a1f08" stroke-width="0.55"/>
<rect x="236.94" y="171.00" width="4.00" height="4.00" fill="#F9C600" stroke="#2a1f08" stroke-width="0.55"/>
<rect x="241.08" y="171.00" width="4.00" height="4.00" fill="#F9C600" stroke="#2a1f08" stroke-width="0.55"/>
<rect x="245.21" y="171.00" width="4.00" height="4.00" fill="#F9C600" stroke="#2a1f08" stroke-width="0.55"/>
<rect x="249.35" y="171.00" width="4.00" height="4.00" fill="#F9C600" stroke="#2a1f08" stroke-width="0.55"/>
<rect x="253.48" y="171.00" width="4.00" height="4.00" fill="#F9C600" stroke="#2a1f08" stroke-width="0.55"/>
<rect x="257.61" y="171.00" width="4.00" height="4.00" fill="#F9C600" stroke="#2a1f08" stroke-width="0.55"/>
<rect x="261.75" y="171.00" width="4.00" height="4.00" fill="#F9C600" stroke="#2a1f08" stroke-width="0.55"/>
<rect x="265.88" y="171.00" width="4.00" height="4.00" fill="#F9C600" stroke="#2a1f08" stroke-width="0.55"/>
<rect x="270.02" y="171.00" width="4.00" height="4.00" fill="#F9C600" stroke="#2a1f08" stroke-width="0.55"/>
<rect x="274.15" y="171.00" width="4.00" height="4.00" fill="#F9C600" stroke="#2a1f08" stroke-width="0.55"/>
<rect x="278.28" y="171.00" width="4.00" height="4.00" fill="#F9C600" stroke="#2a1f08" stroke-width="0.55"/>
<rect x="282.42" y="171.00" width="4.00" height="4.00" fill="#F9C600" stroke="#2a1f08" stroke-width="0.55"/>
<rect x="286.55" y="171.00" width="4.00" height="4.00" fill="#F9C600" stroke="#2a1f08" stroke-width="0.55"/>
<rect x="290.69" y="171.00" width="4.00" height="4.00" fill="#F9C600" stroke="#2a1f08" stroke-width="0.55"/>
<rect x="294.82" y="171.00" width="4.00" height="4.00" fill="#F9C600" stroke="#2a1f08" stroke-width="0.55"/>
<rect x="298.95" y="171.00" width="4.00" height="4.00" fill="#F9C600" stroke="#2a1f08" stroke-width="0.55"/>
<rect x="303.09" y="171.00" width="4.00" height="4.00" fill="#F9C600" stroke="#2a1f08" stroke-width="0.55"/>
<rect x="307.22" y="171.00" width="4.00" height="4.00" fill="#F9C600" stroke="#2a1f08" stroke-width="0.55"/>
<rect x="311.36" y="171.00" width="4.00" height="4.00" fill="#F9C600" stroke="#2a1f08" stroke-width="0.55"/>
<rect x="315.49" y="171.00" width="4.00" height="4.00" fill="#F9C600" stroke="#2a1f08" stroke-width="0.55"/>
<rect x="319.62" y="173.50" width="4.00" height="4.00" fill="#F9C600" stroke="#2a1f08" stroke-width="0.55"/>
<path d="M185.20,395.40V402.60 M189.34,395.76V402.96 M193.47,396.12V403.32 M197.60,396.48V403.68 M201.74,396.84V404.04 M205.87,397.20V404.40 M210.01,397.56V404.76 M214.14,397.92V405.12 M218.27,398.28V405.48 M222.41,398.75V405.95 M226.54,399.27V406.47 M230.68,399.78V406.98 M234.81,400.30V407.50 M238.94,400.82V408.02 M243.08,401.34V408.54 M247.21,401.86V409.06 M251.35,402.38V409.58 M255.48,402.90V410.10 M259.61,403.20V410.40 M263.75,403.50V410.70 M267.88,403.80V411.00 M272.02,404.10V411.30 M276.15,404.40V411.60 M280.28,404.70V411.90 M284.42,405.00V412.20 M288.55,405.30V412.50 M292.69,405.70V412.90 M296.82,406.15V413.35 M300.95,406.60V413.80 M305.09,407.05V414.25 M309.22,407.50V414.70 M313.36,407.95V415.15 M317.49,408.40V415.60" stroke="#a0a0a0" stroke-width="0.6" fill="none"/>
<path d="M185.20,388.00V395.20 M189.34,388.48V395.68 M193.47,388.96V396.16 M197.60,389.44V396.64 M201.74,389.92V397.12 M205.87,390.40V397.60 M210.01,390.88V398.08 M214.14,391.36V398.56 M218.27,391.84V399.04 M222.41,392.57V399.77 M226.54,393.42V400.62 M230.68,394.28V401.48 M234.81,395.13V402.33 M238.94,395.98V403.18 M243.08,396.84V404.04 M247.21,397.69V404.89 M251.35,398.55V405.75 M255.48,399.40V406.60 M259.61,399.61V406.81 M263.75,399.83V407.03 M267.88,400.04V407.24 M272.02,400.26V407.46 M276.15,400.49V407.69 M280.28,400.76V407.96 M284.42,401.04V408.24 M288.55,401.31V408.51 M292.69,401.90V409.10 M296.82,402.65V409.85 M300.95,403.40V410.60 M305.09,404.15V411.35 M309.22,404.90V412.10 M313.36,405.65V412.85 M317.49,406.40V413.60" stroke="#a0a0a0" stroke-width="0.6" fill="none"/>
<path d="M40.51,361.05V369.05 M44.65,364.04V372.04 M48.78,366.10V374.10 M52.91,367.73V375.73 M57.05,369.12V377.12 M61.18,370.34V378.34 M65.32,371.45V379.45 M69.45,372.47V380.47 M73.58,373.43V381.43 M77.72,374.33V382.33 M81.85,375.19V383.19 M85.99,376.02V384.02 M90.12,376.81V384.81 M94.25,377.58V385.58 M98.39,378.33V386.33 M102.52,379.06V387.06 M106.66,379.77V387.77 M110.79,380.47V388.47 M114.92,381.15V389.15 M119.06,381.82V389.82 M123.19,382.48V390.48 M127.33,383.13V391.13 M131.46,383.77V391.77 M135.59,384.41V392.41 M139.73,385.03V393.03 M143.86,385.65V393.65 M148.00,386.26V394.26 M152.13,386.86V394.86 M156.26,387.46V395.46 M160.40,388.06V396.06 M164.53,388.65V396.65 M168.67,389.23V397.23 M172.80,389.81V397.81 M176.93,390.39V398.39" stroke="#a0a0a0" stroke-width="0.6" fill="none"/>
<rect x="34.38" y="337.10" width="4.00" height="4.00" fill="#F9C600" stroke="#2a1f08" stroke-width="0.55"/>
<rect x="38.51" y="363.05" width="4.00" height="4.00" fill="#F9C600" stroke="#2a1f08" stroke-width="0.55"/>
<rect x="42.65" y="366.04" width="4.00" height="4.00" fill="#F9C600" stroke="#2a1f08" stroke-width="0.55"/>
<rect x="46.78" y="368.10" width="4.00" height="4.00" fill="#F9C600" stroke="#2a1f08" stroke-width="0.55"/>
<rect x="50.91" y="369.73" width="4.00" height="4.00" fill="#F9C600" stroke="#2a1f08" stroke-width="0.55"/>
<rect x="55.05" y="371.12" width="4.00" height="4.00" fill="#F9C600" stroke="#2a1f08" stroke-width="0.55"/>
<rect x="59.18" y="372.34" width="4.00" height="4.00" fill="#F9C600" stroke="#2a1f08" stroke-width="0.55"/>
<rect x="63.32" y="373.45" width="4.00" height="4.00" fill="#F9C600" stroke="#2a1f08" stroke-width="0.55"/>
<rect x="67.45" y="374.47" width="4.00" height="4.00" fill="#F9C600" stroke="#2a1f08" stroke-width="0.55"/>
<rect x="71.58" y="375.43" width="4.00" height="4.00" fill="#F9C600" stroke="#2a1f08" stroke-width="0.55"/>
<rect x="75.72" y="376.33" width="4.00" height="4.00" fill="#F9C600" stroke="#2a1f08" stroke-width="0.55"/>
<rect x="79.85" y="377.19" width="4.00" height="4.00" fill="#F9C600" stroke="#2a1f08" stroke-width="0.55"/>
<rect x="83.99" y="378.02" width="4.00" height="4.00" fill="#F9C600" stroke="#2a1f08" stroke-width="0.55"/>
<rect x="88.12" y="378.81" width="4.00" height="4.00" fill="#F9C600" stroke="#2a1f08" stroke-width="0.55"/>
<rect x="92.25" y="379.58" width="4.00" height="4.00" fill="#F9C600" stroke="#2a1f08" stroke-width="0.55"/>
<rect x="96.39" y="380.33" width="4.00" height="4.00" fill="#F9C600" stroke="#2a1f08" stroke-width="0.55"/>
<rect x="100.52" y="381.06" width="4.00" height="4.00" fill="#F9C600" stroke="#2a1f08" stroke-width="0.55"/>
<rect x="104.66" y="381.77" width="4.00" height="4.00" fill="#F9C600" stroke="#2a1f08" stroke-width="0.55"/>
<rect x="108.79" y="382.47" width="4.00" height="4.00" fill="#F9C600" stroke="#2a1f08" stroke-width="0.55"/>
<rect x="112.92" y="383.15" width="4.00" height="4.00" fill="#F9C600" stroke="#2a1f08" stroke-width="0.55"/>
<rect x="117.06" y="383.82" width="4.00" height="4.00" fill="#F9C600" stroke="#2a1f08" stroke-width="0.55"/>
<rect x="121.19" y="384.48" width="4.00" height="4.00" fill="#F9C600" stroke="#2a1f08" stroke-width="0.55"/>
<rect x="125.33" y="385.13" width="4.00" height="4.00" fill="#F9C600" stroke="#2a1f08" stroke-width="0.55"/>
<rect x="129.46" y="385.77" width="4.00" height="4.00" fill="#F9C600" stroke="#2a1f08" stroke-width="0.55"/>
<rect x="133.59" y="386.41" width="4.00" height="4.00" fill="#F9C600" stroke="#2a1f08" stroke-width="0.55"/>
<rect x="137.73" y="387.03" width="4.00" height="4.00" fill="#F9C600" stroke="#2a1f08" stroke-width="0.55"/>
<rect x="141.86" y="387.65" width="4.00" height="4.00" fill="#F9C600" stroke="#2a1f08" stroke-width="0.55"/>
<rect x="146.00" y="388.26" width="4.00" height="4.00" fill="#F9C600" stroke="#2a1f08" stroke-width="0.55"/>
<rect x="150.13" y="388.86" width="4.00" height="4.00" fill="#F9C600" stroke="#2a1f08" stroke-width="0.55"/>
<rect x="154.26" y="389.46" width="4.00" height="4.00" fill="#F9C600" stroke="#2a1f08" stroke-width="0.55"/>
<rect x="158.40" y="390.06" width="4.00" height="4.00" fill="#F9C600" stroke="#2a1f08" stroke-width="0.55"/>
<rect x="162.53" y="390.65" width="4.00" height="4.00" fill="#F9C600" stroke="#2a1f08" stroke-width="0.55"/>
<rect x="166.67" y="391.23" width="4.00" height="4.00" fill="#F9C600" stroke="#2a1f08" stroke-width="0.55"/>
<rect x="170.80" y="391.81" width="4.00" height="4.00" fill="#F9C600" stroke="#2a1f08" stroke-width="0.55"/>
<rect x="174.93" y="392.39" width="4.00" height="4.00" fill="#F9C600" stroke="#2a1f08" stroke-width="0.55"/>
<rect x="179.07" y="370.30" width="4.00" height="4.00" fill="#F9C600" stroke="#2a1f08" stroke-width="0.55"/>
<rect x="183.20" y="397.00" width="4.00" height="4.00" fill="#F9C600" stroke="#2a1f08" stroke-width="0.55"/>
<rect x="187.34" y="397.36" width="4.00" height="4.00" fill="#F9C600" stroke="#2a1f08" stroke-width="0.55"/>
<rect x="191.47" y="397.72" width="4.00" height="4.00" fill="#F9C600" stroke="#2a1f08" stroke-width="0.55"/>
<rect x="195.60" y="398.08" width="4.00" height="4.00" fill="#F9C600" stroke="#2a1f08" stroke-width="0.55"/>
<rect x="199.74" y="398.44" width="4.00" height="4.00" fill="#F9C600" stroke="#2a1f08" stroke-width="0.55"/>
<rect x="203.87" y="398.80" width="4.00" height="4.00" fill="#F9C600" stroke="#2a1f08" stroke-width="0.55"/>
<rect x="208.01" y="399.16" width="4.00" height="4.00" fill="#F9C600" stroke="#2a1f08" stroke-width="0.55"/>
<rect x="212.14" y="399.52" width="4.00" height="4.00" fill="#F9C600" stroke="#2a1f08" stroke-width="0.55"/>
<rect x="216.27" y="399.88" width="4.00" height="4.00" fill="#F9C600" stroke="#2a1f08" stroke-width="0.55"/>
<rect x="220.41" y="400.35" width="4.00" height="4.00" fill="#F9C600" stroke="#2a1f08" stroke-width="0.55"/>
<rect x="224.54" y="400.87" width="4.00" height="4.00" fill="#F9C600" stroke="#2a1f08" stroke-width="0.55"/>
<rect x="228.68" y="401.38" width="4.00" height="4.00" fill="#F9C600" stroke="#2a1f08" stroke-width="0.55"/>
<rect x="232.81" y="401.90" width="4.00" height="4.00" fill="#F9C600" stroke="#2a1f08" stroke-width="0.55"/>
<rect x="236.94" y="402.42" width="4.00" height="4.00" fill="#F9C600" stroke="#2a1f08" stroke-width="0.55"/>
<rect x="241.08" y="402.94" width="4.00" height="4.00" fill="#F9C600" stroke="#2a1f08" stroke-width="0.55"/>
<rect x="245.21" y="403.46" width="4.00" height="4.00" fill="#F9C600" stroke="#2a1f08" stroke-width="0.55"/>
<rect x="249.35" y="403.98" width="4.00" height="4.00" fill="#F9C600" stroke="#2a1f08" stroke-width="0.55"/>
<rect x="253.48" y="404.50" width="4.00" height="4.00" fill="#F9C600" stroke="#2a1f08" stroke-width="0.55"/>
<rect x="257.61" y="404.80" width="4.00" height="4.00" fill="#F9C600" stroke="#2a1f08" stroke-width="0.55"/>
<rect x="261.75" y="405.10" width="4.00" height="4.00" fill="#F9C600" stroke="#2a1f08" stroke-width="0.55"/>
<rect x="265.88" y="405.40" width="4.00" height="4.00" fill="#F9C600" stroke="#2a1f08" stroke-width="0.55"/>
<rect x="270.02" y="405.70" width="4.00" height="4.00" fill="#F9C600" stroke="#2a1f08" stroke-width="0.55"/>
<rect x="274.15" y="406.00" width="4.00" height="4.00" fill="#F9C600" stroke="#2a1f08" stroke-width="0.55"/>
<rect x="278.28" y="406.30" width="4.00" height="4.00" fill="#F9C600" stroke="#2a1f08" stroke-width="0.55"/>
<rect x="282.42" y="406.60" width="4.00" height="4.00" fill="#F9C600" stroke="#2a1f08" stroke-width="0.55"/>
<rect x="286.55" y="406.90" width="4.00" height="4.00" fill="#F9C600" stroke="#2a1f08" stroke-width="0.55"/>
<rect x="290.69" y="407.30" width="4.00" height="4.00" fill="#F9C600" stroke="#2a1f08" stroke-width="0.55"/>
<rect x="294.82" y="407.75" width="4.00" height="4.00" fill="#F9C600" stroke="#2a1f08" stroke-width="0.55"/>
<rect x="298.95" y="408.20" width="4.00" height="4.00" fill="#F9C600" stroke="#2a1f08" stroke-width="0.55"/>
<rect x="303.09" y="408.65" width="4.00" height="4.00" fill="#F9C600" stroke="#2a1f08" stroke-width="0.55"/>
<rect x="307.22" y="409.10" width="4.00" height="4.00" fill="#F9C600" stroke="#2a1f08" stroke-width="0.55"/>
<rect x="311.36" y="409.55" width="4.00" height="4.00" fill="#F9C600" stroke="#2a1f08" stroke-width="0.55"/>
<rect x="315.49" y="410.00" width="4.00" height="4.00" fill="#F9C600" stroke="#2a1f08" stroke-width="0.55"/>
<rect x="319.62" y="386.00" width="4.00" height="4.00" fill="#F9C600" stroke="#2a1f08" stroke-width="0.55"/>
<polygon points="33.73,313.63 39.03,313.63 36.38,317.97" fill="#F57A0A" stroke="#2a1f08" stroke-width="0.55"/>
<polygon points="37.86,335.05 43.16,335.05 40.51,339.40" fill="#F57A0A" stroke="#2a1f08" stroke-width="0.55"/>
<polygon points="42.00,338.22 47.30,338.22 44.65,342.57" fill="#F57A0A" stroke="#2a1f08" stroke-width="0.55"/>
<polygon points="46.13,340.62 51.43,340.62 48.78,344.97" fill="#F57A0A" stroke="#2a1f08" stroke-width="0.55"/>
<polygon points="50.26,342.66 55.56,342.66 52.91,347.01" fill="#F57A0A" stroke="#2a1f08" stroke-width="0.55"/>
<polygon points="54.40,344.49 59.70,344.49 57.05,348.84" fill="#F57A0A" stroke="#2a1f08" stroke-width="0.55"/>
<polygon points="58.53,346.19 63.83,346.19 61.18,350.54" fill="#F57A0A" stroke="#2a1f08" stroke-width="0.55"/>
<polygon points="62.67,347.79 67.97,347.79 65.32,352.14" fill="#F57A0A" stroke="#2a1f08" stroke-width="0.55"/>
<polygon points="66.80,349.32 72.10,349.32 69.45,353.67" fill="#F57A0A" stroke="#2a1f08" stroke-width="0.55"/>
<polygon points="70.93,350.80 76.23,350.80 73.58,355.15" fill="#F57A0A" stroke="#2a1f08" stroke-width="0.55"/>
<polygon points="75.07,352.23 80.37,352.23 77.72,356.58" fill="#F57A0A" stroke="#2a1f08" stroke-width="0.55"/>
<polygon points="79.20,353.63 84.50,353.63 81.85,357.97" fill="#F57A0A" stroke="#2a1f08" stroke-width="0.55"/>
<polygon points="83.34,354.99 88.64,354.99 85.99,359.34" fill="#F57A0A" stroke="#2a1f08" stroke-width="0.55"/>
<polygon points="87.47,356.33 92.77,356.33 90.12,360.68" fill="#F57A0A" stroke="#2a1f08" stroke-width="0.55"/>
<polygon points="91.60,357.65 96.90,357.65 94.25,362.00" fill="#F57A0A" stroke="#2a1f08" stroke-width="0.55"/>
<polygon points="95.74,358.95 101.04,358.95 98.39,363.30" fill="#F57A0A" stroke="#2a1f08" stroke-width="0.55"/>
<polygon points="99.87,360.24 105.17,360.24 102.52,364.59" fill="#F57A0A" stroke="#2a1f08" stroke-width="0.55"/>
<polygon points="104.01,361.51 109.31,361.51 106.66,365.86" fill="#F57A0A" stroke="#2a1f08" stroke-width="0.55"/>
<polygon points="108.14,362.77 113.44,362.77 110.79,367.11" fill="#F57A0A" stroke="#2a1f08" stroke-width="0.55"/>
<polygon points="112.27,364.01 117.57,364.01 114.92,368.36" fill="#F57A0A" stroke="#2a1f08" stroke-width="0.55"/>
<polygon points="116.41,365.25 121.71,365.25 119.06,369.60" fill="#F57A0A" stroke="#2a1f08" stroke-width="0.55"/>
<polygon points="120.54,366.48 125.84,366.48 123.19,370.82" fill="#F57A0A" stroke="#2a1f08" stroke-width="0.55"/>
<polygon points="124.68,367.70 129.98,367.70 127.33,372.04" fill="#F57A0A" stroke="#2a1f08" stroke-width="0.55"/>
<polygon points="128.81,368.91 134.11,368.91 131.46,373.26" fill="#F57A0A" stroke="#2a1f08" stroke-width="0.55"/>
<polygon points="132.94,370.11 138.24,370.11 135.59,374.46" fill="#F57A0A" stroke="#2a1f08" stroke-width="0.55"/>
<polygon points="137.08,371.31 142.38,371.31 139.73,375.66" fill="#F57A0A" stroke="#2a1f08" stroke-width="0.55"/>
<polygon points="141.21,372.50 146.51,372.50 143.86,376.85" fill="#F57A0A" stroke="#2a1f08" stroke-width="0.55"/>
<polygon points="145.35,373.69 150.65,373.69 148.00,378.04" fill="#F57A0A" stroke="#2a1f08" stroke-width="0.55"/>
<polygon points="149.48,374.87 154.78,374.87 152.13,379.22" fill="#F57A0A" stroke="#2a1f08" stroke-width="0.55"/>
<polygon points="153.61,376.05 158.91,376.05 156.26,380.39" fill="#F57A0A" stroke="#2a1f08" stroke-width="0.55"/>
<polygon points="157.75,377.22 163.05,377.22 160.40,381.57" fill="#F57A0A" stroke="#2a1f08" stroke-width="0.55"/>
<polygon points="161.88,378.39 167.18,378.39 164.53,382.74" fill="#F57A0A" stroke="#2a1f08" stroke-width="0.55"/>
<polygon points="166.02,379.55 171.32,379.55 168.67,383.90" fill="#F57A0A" stroke="#2a1f08" stroke-width="0.55"/>
<polygon points="170.15,380.71 175.45,380.71 172.80,385.06" fill="#F57A0A" stroke="#2a1f08" stroke-width="0.55"/>
<polygon points="174.28,381.87 179.58,381.87 176.93,386.22" fill="#F57A0A" stroke="#2a1f08" stroke-width="0.55"/>
<polygon points="178.42,362.83 183.72,362.83 181.07,367.17" fill="#F57A0A" stroke="#2a1f08" stroke-width="0.55"/>
<polygon points="182.55,389.43 187.85,389.43 185.20,393.77" fill="#F57A0A" stroke="#2a1f08" stroke-width="0.55"/>
<polygon points="186.69,389.91 191.99,389.91 189.34,394.25" fill="#F57A0A" stroke="#2a1f08" stroke-width="0.55"/>
<polygon points="190.82,390.39 196.12,390.39 193.47,394.73" fill="#F57A0A" stroke="#2a1f08" stroke-width="0.55"/>
<polygon points="194.95,390.87 200.25,390.87 197.60,395.21" fill="#F57A0A" stroke="#2a1f08" stroke-width="0.55"/>
<polygon points="199.09,391.35 204.39,391.35 201.74,395.69" fill="#F57A0A" stroke="#2a1f08" stroke-width="0.55"/>
<polygon points="203.22,391.83 208.52,391.83 205.87,396.17" fill="#F57A0A" stroke="#2a1f08" stroke-width="0.55"/>
<polygon points="207.36,392.31 212.66,392.31 210.01,396.65" fill="#F57A0A" stroke="#2a1f08" stroke-width="0.55"/>
<polygon points="211.49,392.79 216.79,392.79 214.14,397.13" fill="#F57A0A" stroke="#2a1f08" stroke-width="0.55"/>
<polygon points="215.62,393.27 220.92,393.27 218.27,397.61" fill="#F57A0A" stroke="#2a1f08" stroke-width="0.55"/>
<polygon points="219.76,394.00 225.06,394.00 222.41,398.34" fill="#F57A0A" stroke="#2a1f08" stroke-width="0.55"/>
<polygon points="223.89,394.85 229.19,394.85 226.54,399.20" fill="#F57A0A" stroke="#2a1f08" stroke-width="0.55"/>
<polygon points="228.03,395.70 233.33,395.70 230.68,400.05" fill="#F57A0A" stroke="#2a1f08" stroke-width="0.55"/>
<polygon points="232.16,396.56 237.46,396.56 234.81,400.90" fill="#F57A0A" stroke="#2a1f08" stroke-width="0.55"/>
<polygon points="236.29,397.41 241.59,397.41 238.94,401.76" fill="#F57A0A" stroke="#2a1f08" stroke-width="0.55"/>
<polygon points="240.43,398.27 245.73,398.27 243.08,402.61" fill="#F57A0A" stroke="#2a1f08" stroke-width="0.55"/>
<polygon points="244.56,399.12 249.86,399.12 247.21,403.47" fill="#F57A0A" stroke="#2a1f08" stroke-width="0.55"/>
<polygon points="248.70,399.97 254.00,399.97 251.35,404.32" fill="#F57A0A" stroke="#2a1f08" stroke-width="0.55"/>
<polygon points="252.83,400.83 258.13,400.83 255.48,405.17" fill="#F57A0A" stroke="#2a1f08" stroke-width="0.55"/>
<polygon points="256.96,401.04 262.26,401.04 259.61,405.39" fill="#F57A0A" stroke="#2a1f08" stroke-width="0.55"/>
<polygon points="261.10,401.26 266.40,401.26 263.75,405.60" fill="#F57A0A" stroke="#2a1f08" stroke-width="0.55"/>
<polygon points="265.23,401.47 270.53,401.47 267.88,405.82" fill="#F57A0A" stroke="#2a1f08" stroke-width="0.55"/>
<polygon points="269.37,401.68 274.67,401.68 272.02,406.03" fill="#F57A0A" stroke="#2a1f08" stroke-width="0.55"/>
<polygon points="273.50,401.92 278.80,401.92 276.15,406.26" fill="#F57A0A" stroke="#2a1f08" stroke-width="0.55"/>
<polygon points="277.63,402.19 282.93,402.19 280.28,406.54" fill="#F57A0A" stroke="#2a1f08" stroke-width="0.55"/>
<polygon points="281.77,402.46 287.07,402.46 284.42,406.81" fill="#F57A0A" stroke="#2a1f08" stroke-width="0.55"/>
<polygon points="285.90,402.74 291.20,402.74 288.55,407.08" fill="#F57A0A" stroke="#2a1f08" stroke-width="0.55"/>
<polygon points="290.04,403.33 295.34,403.33 292.69,407.67" fill="#F57A0A" stroke="#2a1f08" stroke-width="0.55"/>
<polygon points="294.17,404.08 299.47,404.08 296.82,408.42" fill="#F57A0A" stroke="#2a1f08" stroke-width="0.55"/>
<polygon points="298.30,404.83 303.60,404.83 300.95,409.17" fill="#F57A0A" stroke="#2a1f08" stroke-width="0.55"/>
<polygon points="302.44,405.58 307.74,405.58 305.09,409.92" fill="#F57A0A" stroke="#2a1f08" stroke-width="0.55"/>
<polygon points="306.57,406.33 311.87,406.33 309.22,410.67" fill="#F57A0A" stroke="#2a1f08" stroke-width="0.55"/>
<polygon points="310.71,407.08 316.01,407.08 313.36,411.42" fill="#F57A0A" stroke="#2a1f08" stroke-width="0.55"/>
<polygon points="314.84,407.83 320.14,407.83 317.49,412.17" fill="#F57A0A" stroke="#2a1f08" stroke-width="0.55"/>
<polygon points="318.97,382.03 324.27,382.03 321.62,386.37" fill="#F57A0A" stroke="#2a1f08" stroke-width="0.55"/>
<circle cx="36.38" cy="323.10" r="2.30" fill="#2084D3" stroke="#2a1f08" stroke-width="0.55"/>
<circle cx="40.51" cy="345.40" r="2.30" fill="#2084D3" stroke="#2a1f08" stroke-width="0.55"/>
<circle cx="44.65" cy="346.50" r="2.30" fill="#2084D3" stroke="#2a1f08" stroke-width="0.55"/>
<circle cx="48.78" cy="349.30" r="2.30" fill="#2084D3" stroke="#2a1f08" stroke-width="0.55"/>
<circle cx="52.91" cy="351.40" r="2.30" fill="#2084D3" stroke="#2a1f08" stroke-width="0.55"/>
<circle cx="57.05" cy="354.40" r="2.30" fill="#2084D3" stroke="#2a1f08" stroke-width="0.55"/>
<circle cx="61.18" cy="356.60" r="2.30" fill="#2084D3" stroke="#2a1f08" stroke-width="0.55"/>
<circle cx="65.32" cy="358.30" r="2.30" fill="#2084D3" stroke="#2a1f08" stroke-width="0.55"/>
<circle cx="69.45" cy="360.00" r="2.30" fill="#2084D3" stroke="#2a1f08" stroke-width="0.55"/>
<circle cx="73.58" cy="361.70" r="2.30" fill="#2084D3" stroke="#2a1f08" stroke-width="0.55"/>
<circle cx="77.72" cy="363.35" r="2.30" fill="#2084D3" stroke="#2a1f08" stroke-width="0.55"/>
<circle cx="81.85" cy="365.00" r="2.30" fill="#2084D3" stroke="#2a1f08" stroke-width="0.55"/>
<circle cx="85.99" cy="366.75" r="2.30" fill="#2084D3" stroke="#2a1f08" stroke-width="0.55"/>
<circle cx="90.12" cy="368.50" r="2.30" fill="#2084D3" stroke="#2a1f08" stroke-width="0.55"/>
<circle cx="94.25" cy="369.40" r="2.30" fill="#2084D3" stroke="#2a1f08" stroke-width="0.55"/>
<circle cx="98.39" cy="370.30" r="2.30" fill="#2084D3" stroke="#2a1f08" stroke-width="0.55"/>
<circle cx="102.52" cy="371.20" r="2.30" fill="#2084D3" stroke="#2a1f08" stroke-width="0.55"/>
<circle cx="106.66" cy="372.10" r="2.30" fill="#2084D3" stroke="#2a1f08" stroke-width="0.55"/>
<circle cx="110.79" cy="373.00" r="2.30" fill="#2084D3" stroke="#2a1f08" stroke-width="0.55"/>
<circle cx="114.92" cy="373.90" r="2.30" fill="#2084D3" stroke="#2a1f08" stroke-width="0.55"/>
<circle cx="119.06" cy="374.80" r="2.30" fill="#2084D3" stroke="#2a1f08" stroke-width="0.55"/>
<circle cx="123.19" cy="375.70" r="2.30" fill="#2084D3" stroke="#2a1f08" stroke-width="0.55"/>
<circle cx="127.33" cy="376.80" r="2.30" fill="#2084D3" stroke="#2a1f08" stroke-width="0.55"/>
<circle cx="131.46" cy="377.90" r="2.30" fill="#2084D3" stroke="#2a1f08" stroke-width="0.55"/>
<circle cx="135.59" cy="379.00" r="2.30" fill="#2084D3" stroke="#2a1f08" stroke-width="0.55"/>
<circle cx="139.73" cy="379.62" r="2.30" fill="#2084D3" stroke="#2a1f08" stroke-width="0.55"/>
<circle cx="143.86" cy="380.24" r="2.30" fill="#2084D3" stroke="#2a1f08" stroke-width="0.55"/>
<circle cx="148.00" cy="380.86" r="2.30" fill="#2084D3" stroke="#2a1f08" stroke-width="0.55"/>
<circle cx="152.13" cy="381.48" r="2.30" fill="#2084D3" stroke="#2a1f08" stroke-width="0.55"/>
<circle cx="156.26" cy="382.10" r="2.30" fill="#2084D3" stroke="#2a1f08" stroke-width="0.55"/>
<circle cx="160.40" cy="382.78" r="2.30" fill="#2084D3" stroke="#2a1f08" stroke-width="0.55"/>
<circle cx="164.53" cy="383.46" r="2.30" fill="#2084D3" stroke="#2a1f08" stroke-width="0.55"/>
<circle cx="168.67" cy="384.14" r="2.30" fill="#2084D3" stroke="#2a1f08" stroke-width="0.55"/>
<circle cx="172.80" cy="384.82" r="2.30" fill="#2084D3" stroke="#2a1f08" stroke-width="0.55"/>
<circle cx="176.93" cy="385.50" r="2.30" fill="#2084D3" stroke="#2a1f08" stroke-width="0.55"/>
<circle cx="181.07" cy="373.30" r="2.30" fill="#2084D3" stroke="#2a1f08" stroke-width="0.55"/>
<circle cx="185.20" cy="389.60" r="2.30" fill="#2084D3" stroke="#2a1f08" stroke-width="0.55"/>
<circle cx="189.34" cy="389.94" r="2.30" fill="#2084D3" stroke="#2a1f08" stroke-width="0.55"/>
<circle cx="193.47" cy="390.27" r="2.30" fill="#2084D3" stroke="#2a1f08" stroke-width="0.55"/>
<circle cx="197.60" cy="390.61" r="2.30" fill="#2084D3" stroke="#2a1f08" stroke-width="0.55"/>
<circle cx="201.74" cy="390.94" r="2.30" fill="#2084D3" stroke="#2a1f08" stroke-width="0.55"/>
<circle cx="205.87" cy="391.28" r="2.30" fill="#2084D3" stroke="#2a1f08" stroke-width="0.55"/>
<circle cx="210.01" cy="391.62" r="2.30" fill="#2084D3" stroke="#2a1f08" stroke-width="0.55"/>
<circle cx="214.14" cy="391.95" r="2.30" fill="#2084D3" stroke="#2a1f08" stroke-width="0.55"/>
<circle cx="218.27" cy="392.29" r="2.30" fill="#2084D3" stroke="#2a1f08" stroke-width="0.55"/>
<circle cx="222.41" cy="392.68" r="2.30" fill="#2084D3" stroke="#2a1f08" stroke-width="0.55"/>
<circle cx="226.54" cy="393.09" r="2.30" fill="#2084D3" stroke="#2a1f08" stroke-width="0.55"/>
<circle cx="230.68" cy="393.30" r="2.30" fill="#2084D3" stroke="#2a1f08" stroke-width="0.55"/>
<circle cx="234.81" cy="393.92" r="2.30" fill="#2084D3" stroke="#2a1f08" stroke-width="0.55"/>
<circle cx="238.94" cy="394.34" r="2.30" fill="#2084D3" stroke="#2a1f08" stroke-width="0.55"/>
<circle cx="243.08" cy="394.75" r="2.30" fill="#2084D3" stroke="#2a1f08" stroke-width="0.55"/>
<circle cx="247.21" cy="395.17" r="2.30" fill="#2084D3" stroke="#2a1f08" stroke-width="0.55"/>
<circle cx="251.35" cy="395.58" r="2.30" fill="#2084D3" stroke="#2a1f08" stroke-width="0.55"/>
<circle cx="255.48" cy="396.00" r="2.30" fill="#2084D3" stroke="#2a1f08" stroke-width="0.55"/>
<circle cx="259.61" cy="396.24" r="2.30" fill="#2084D3" stroke="#2a1f08" stroke-width="0.55"/>
<circle cx="263.75" cy="396.48" r="2.30" fill="#2084D3" stroke="#2a1f08" stroke-width="0.55"/>
<circle cx="267.88" cy="396.72" r="2.30" fill="#2084D3" stroke="#2a1f08" stroke-width="0.55"/>
<circle cx="272.02" cy="396.96" r="2.30" fill="#2084D3" stroke="#2a1f08" stroke-width="0.55"/>
<circle cx="276.15" cy="397.20" r="2.30" fill="#2084D3" stroke="#2a1f08" stroke-width="0.55"/>
<circle cx="280.28" cy="397.44" r="2.30" fill="#2084D3" stroke="#2a1f08" stroke-width="0.55"/>
<circle cx="284.42" cy="397.68" r="2.30" fill="#2084D3" stroke="#2a1f08" stroke-width="0.55"/>
<circle cx="288.55" cy="397.92" r="2.30" fill="#2084D3" stroke="#2a1f08" stroke-width="0.55"/>
<circle cx="292.69" cy="398.20" r="2.30" fill="#2084D3" stroke="#2a1f08" stroke-width="0.55"/>
<circle cx="296.82" cy="398.50" r="2.30" fill="#2084D3" stroke="#2a1f08" stroke-width="0.55"/>
<circle cx="300.95" cy="398.80" r="2.30" fill="#2084D3" stroke="#2a1f08" stroke-width="0.55"/>
<circle cx="305.09" cy="399.10" r="2.30" fill="#2084D3" stroke="#2a1f08" stroke-width="0.55"/>
<circle cx="309.22" cy="399.40" r="2.30" fill="#2084D3" stroke="#2a1f08" stroke-width="0.55"/>
<circle cx="313.36" cy="399.70" r="2.30" fill="#2084D3" stroke="#2a1f08" stroke-width="0.55"/>
<circle cx="317.49" cy="400.00" r="2.30" fill="#2084D3" stroke="#2a1f08" stroke-width="0.55"/>
<circle cx="321.62" cy="387.10" r="2.30" fill="#2084D3" stroke="#2a1f08" stroke-width="0.55"/>
<path d="M185.20,515.20V521.60 M189.34,515.47V521.88 M193.47,515.75V522.15 M197.60,516.02V522.43 M201.74,516.30V522.70 M205.87,516.57V522.98 M210.01,516.85V523.25 M214.14,517.12V523.53 M218.27,517.40V523.80 M222.41,517.87V524.27 M226.54,522.80V529.20 M230.68,518.80V525.20 M234.81,519.27V525.67 M238.94,519.74V526.14 M243.08,520.21V526.61 M247.21,520.68V527.08 M251.35,521.14V527.54 M255.48,521.44V527.84 M259.61,521.65V528.05 M263.75,521.86V528.26 M267.88,522.07V528.47 M272.02,522.29V528.69 M276.15,522.50V528.90 M280.28,522.71V529.11 M284.42,522.92V529.32 M288.55,523.13V529.53 M292.69,523.37V529.77 M296.82,523.62V530.03 M300.95,523.88V530.28 M305.09,524.13V530.54 M309.22,524.39V530.79 M313.36,524.64V531.05 M317.49,524.90V531.30" stroke="#a0a0a0" stroke-width="0.6" fill="none"/>
<path d="M185.20,510.00V516.00 M189.34,510.33V516.33 M193.47,510.65V516.65 M197.60,510.98V516.98 M201.74,511.30V517.30 M205.87,511.62V517.62 M210.01,511.95V517.95 M214.14,512.27V518.27 M218.27,512.60V518.60 M222.41,513.06V519.06 M226.54,513.51V519.51 M230.68,513.97V519.97 M234.81,514.42V520.42 M238.94,514.88V520.88 M243.08,515.34V521.34 M247.21,515.79V521.79 M251.35,516.25V522.25 M255.48,516.60V522.60 M259.61,516.90V522.90 M263.75,517.20V523.20 M267.88,517.50V523.50 M272.02,517.80V523.80 M276.15,518.10V524.10 M280.28,518.40V524.40 M284.42,518.70V524.70 M288.55,519.00V525.00 M292.69,519.28V525.28 M296.82,519.55V525.55 M300.95,519.82V525.82 M305.09,520.09V526.09 M309.22,520.36V526.36 M313.36,520.63V526.63 M317.49,520.90V526.90" stroke="#a0a0a0" stroke-width="0.6" fill="none"/>
<rect x="34.38" y="453.40" width="4.00" height="4.00" fill="#F9C600" stroke="#2a1f08" stroke-width="0.55"/>
<rect x="38.51" y="497.75" width="4.00" height="4.00" fill="#F9C600" stroke="#2a1f08" stroke-width="0.55"/>
<rect x="42.65" y="502.14" width="4.00" height="4.00" fill="#F9C600" stroke="#2a1f08" stroke-width="0.55"/>
<rect x="46.78" y="504.98" width="4.00" height="4.00" fill="#F9C600" stroke="#2a1f08" stroke-width="0.55"/>
<rect x="50.91" y="507.10" width="4.00" height="4.00" fill="#F9C600" stroke="#2a1f08" stroke-width="0.55"/>
<rect x="55.05" y="508.80" width="4.00" height="4.00" fill="#F9C600" stroke="#2a1f08" stroke-width="0.55"/>
<rect x="59.18" y="510.23" width="4.00" height="4.00" fill="#F9C600" stroke="#2a1f08" stroke-width="0.55"/>
<rect x="63.32" y="511.47" width="4.00" height="4.00" fill="#F9C600" stroke="#2a1f08" stroke-width="0.55"/>
<rect x="67.45" y="512.56" width="4.00" height="4.00" fill="#F9C600" stroke="#2a1f08" stroke-width="0.55"/>
<rect x="71.58" y="513.54" width="4.00" height="4.00" fill="#F9C600" stroke="#2a1f08" stroke-width="0.55"/>
<rect x="75.72" y="514.43" width="4.00" height="4.00" fill="#F9C600" stroke="#2a1f08" stroke-width="0.55"/>
<rect x="79.85" y="515.25" width="4.00" height="4.00" fill="#F9C600" stroke="#2a1f08" stroke-width="0.55"/>
<rect x="83.99" y="516.01" width="4.00" height="4.00" fill="#F9C600" stroke="#2a1f08" stroke-width="0.55"/>
<rect x="88.12" y="516.72" width="4.00" height="4.00" fill="#F9C600" stroke="#2a1f08" stroke-width="0.55"/>
<rect x="92.25" y="517.39" width="4.00" height="4.00" fill="#F9C600" stroke="#2a1f08" stroke-width="0.55"/>
<rect x="96.39" y="518.02" width="4.00" height="4.00" fill="#F9C600" stroke="#2a1f08" stroke-width="0.55"/>
<rect x="100.52" y="518.62" width="4.00" height="4.00" fill="#F9C600" stroke="#2a1f08" stroke-width="0.55"/>
<rect x="104.66" y="519.19" width="4.00" height="4.00" fill="#F9C600" stroke="#2a1f08" stroke-width="0.55"/>
<rect x="108.79" y="519.73" width="4.00" height="4.00" fill="#F9C600" stroke="#2a1f08" stroke-width="0.55"/>
<rect x="112.92" y="520.25" width="4.00" height="4.00" fill="#F9C600" stroke="#2a1f08" stroke-width="0.55"/>
<rect x="117.06" y="520.75" width="4.00" height="4.00" fill="#F9C600" stroke="#2a1f08" stroke-width="0.55"/>
<rect x="121.19" y="521.23" width="4.00" height="4.00" fill="#F9C600" stroke="#2a1f08" stroke-width="0.55"/>
<rect x="125.33" y="521.70" width="4.00" height="4.00" fill="#F9C600" stroke="#2a1f08" stroke-width="0.55"/>
<rect x="129.46" y="522.15" width="4.00" height="4.00" fill="#F9C600" stroke="#2a1f08" stroke-width="0.55"/>
<rect x="133.59" y="522.58" width="4.00" height="4.00" fill="#F9C600" stroke="#2a1f08" stroke-width="0.55"/>
<rect x="137.73" y="523.00" width="4.00" height="4.00" fill="#F9C600" stroke="#2a1f08" stroke-width="0.55"/>
<rect x="141.86" y="523.41" width="4.00" height="4.00" fill="#F9C600" stroke="#2a1f08" stroke-width="0.55"/>
<rect x="146.00" y="523.81" width="4.00" height="4.00" fill="#F9C600" stroke="#2a1f08" stroke-width="0.55"/>
<rect x="150.13" y="524.20" width="4.00" height="4.00" fill="#F9C600" stroke="#2a1f08" stroke-width="0.55"/>
<rect x="154.26" y="524.58" width="4.00" height="4.00" fill="#F9C600" stroke="#2a1f08" stroke-width="0.55"/>
<rect x="158.40" y="524.95" width="4.00" height="4.00" fill="#F9C600" stroke="#2a1f08" stroke-width="0.55"/>
<rect x="162.53" y="525.31" width="4.00" height="4.00" fill="#F9C600" stroke="#2a1f08" stroke-width="0.55"/>
<rect x="166.67" y="525.67" width="4.00" height="4.00" fill="#F9C600" stroke="#2a1f08" stroke-width="0.55"/>
<rect x="170.80" y="526.02" width="4.00" height="4.00" fill="#F9C600" stroke="#2a1f08" stroke-width="0.55"/>
<rect x="174.93" y="526.36" width="4.00" height="4.00" fill="#F9C600" stroke="#2a1f08" stroke-width="0.55"/>
<rect x="179.07" y="499.40" width="4.00" height="4.00" fill="#F9C600" stroke="#2a1f08" stroke-width="0.55"/>
<rect x="183.20" y="526.60" width="4.00" height="4.00" fill="#F9C600" stroke="#2a1f08" stroke-width="0.55"/>
<rect x="187.34" y="526.85" width="4.00" height="4.00" fill="#F9C600" stroke="#2a1f08" stroke-width="0.55"/>
<rect x="191.47" y="527.10" width="4.00" height="4.00" fill="#F9C600" stroke="#2a1f08" stroke-width="0.55"/>
<rect x="195.60" y="527.35" width="4.00" height="4.00" fill="#F9C600" stroke="#2a1f08" stroke-width="0.55"/>
<rect x="199.74" y="527.60" width="4.00" height="4.00" fill="#F9C600" stroke="#2a1f08" stroke-width="0.55"/>
<rect x="203.87" y="527.85" width="4.00" height="4.00" fill="#F9C600" stroke="#2a1f08" stroke-width="0.55"/>
<rect x="208.01" y="528.10" width="4.00" height="4.00" fill="#F9C600" stroke="#2a1f08" stroke-width="0.55"/>
<rect x="212.14" y="528.35" width="4.00" height="4.00" fill="#F9C600" stroke="#2a1f08" stroke-width="0.55"/>
<rect x="216.27" y="528.60" width="4.00" height="4.00" fill="#F9C600" stroke="#2a1f08" stroke-width="0.55"/>
<rect x="220.41" y="529.01" width="4.00" height="4.00" fill="#F9C600" stroke="#2a1f08" stroke-width="0.55"/>
<rect x="224.54" y="529.42" width="4.00" height="4.00" fill="#F9C600" stroke="#2a1f08" stroke-width="0.55"/>
<rect x="228.68" y="529.82" width="4.00" height="4.00" fill="#F9C600" stroke="#2a1f08" stroke-width="0.55"/>
<rect x="232.81" y="530.23" width="4.00" height="4.00" fill="#F9C600" stroke="#2a1f08" stroke-width="0.55"/>
<rect x="236.94" y="530.64" width="4.00" height="4.00" fill="#F9C600" stroke="#2a1f08" stroke-width="0.55"/>
<rect x="241.08" y="531.05" width="4.00" height="4.00" fill="#F9C600" stroke="#2a1f08" stroke-width="0.55"/>
<rect x="245.21" y="531.46" width="4.00" height="4.00" fill="#F9C600" stroke="#2a1f08" stroke-width="0.55"/>
<rect x="249.35" y="531.86" width="4.00" height="4.00" fill="#F9C600" stroke="#2a1f08" stroke-width="0.55"/>
<rect x="253.48" y="532.20" width="4.00" height="4.00" fill="#F9C600" stroke="#2a1f08" stroke-width="0.55"/>
<rect x="257.61" y="532.50" width="4.00" height="4.00" fill="#F9C600" stroke="#2a1f08" stroke-width="0.55"/>
<rect x="261.75" y="532.80" width="4.00" height="4.00" fill="#F9C600" stroke="#2a1f08" stroke-width="0.55"/>
<rect x="265.88" y="533.10" width="4.00" height="4.00" fill="#F9C600" stroke="#2a1f08" stroke-width="0.55"/>
<rect x="270.02" y="533.40" width="4.00" height="4.00" fill="#F9C600" stroke="#2a1f08" stroke-width="0.55"/>
<rect x="274.15" y="533.70" width="4.00" height="4.00" fill="#F9C600" stroke="#2a1f08" stroke-width="0.55"/>
<rect x="278.28" y="534.00" width="4.00" height="4.00" fill="#F9C600" stroke="#2a1f08" stroke-width="0.55"/>
<rect x="282.42" y="534.30" width="4.00" height="4.00" fill="#F9C600" stroke="#2a1f08" stroke-width="0.55"/>
<rect x="286.55" y="534.60" width="4.00" height="4.00" fill="#F9C600" stroke="#2a1f08" stroke-width="0.55"/>
<rect x="290.69" y="534.92" width="4.00" height="4.00" fill="#F9C600" stroke="#2a1f08" stroke-width="0.55"/>
<rect x="294.82" y="535.25" width="4.00" height="4.00" fill="#F9C600" stroke="#2a1f08" stroke-width="0.55"/>
<rect x="298.95" y="535.58" width="4.00" height="4.00" fill="#F9C600" stroke="#2a1f08" stroke-width="0.55"/>
<rect x="303.09" y="535.91" width="4.00" height="4.00" fill="#F9C600" stroke="#2a1f08" stroke-width="0.55"/>
<rect x="307.22" y="536.24" width="4.00" height="4.00" fill="#F9C600" stroke="#2a1f08" stroke-width="0.55"/>
<rect x="311.36" y="536.57" width="4.00" height="4.00" fill="#F9C600" stroke="#2a1f08" stroke-width="0.55"/>
<rect x="315.49" y="536.90" width="4.00" height="4.00" fill="#F9C600" stroke="#2a1f08" stroke-width="0.55"/>
<rect x="319.62" y="509.00" width="4.00" height="4.00" fill="#F9C600" stroke="#2a1f08" stroke-width="0.55"/>
<circle cx="36.38" cy="445.80" r="2.30" fill="#2084D3" stroke="#2a1f08" stroke-width="0.55"/>
<circle cx="40.51" cy="484.76" r="2.30" fill="#2084D3" stroke="#2a1f08" stroke-width="0.55"/>
<circle cx="44.65" cy="488.19" r="2.30" fill="#2084D3" stroke="#2a1f08" stroke-width="0.55"/>
<circle cx="48.78" cy="490.54" r="2.30" fill="#2084D3" stroke="#2a1f08" stroke-width="0.55"/>
<circle cx="52.91" cy="492.40" r="2.30" fill="#2084D3" stroke="#2a1f08" stroke-width="0.55"/>
<circle cx="57.05" cy="493.98" r="2.30" fill="#2084D3" stroke="#2a1f08" stroke-width="0.55"/>
<circle cx="61.18" cy="495.36" r="2.30" fill="#2084D3" stroke="#2a1f08" stroke-width="0.55"/>
<circle cx="65.32" cy="496.61" r="2.30" fill="#2084D3" stroke="#2a1f08" stroke-width="0.55"/>
<circle cx="69.45" cy="497.77" r="2.30" fill="#2084D3" stroke="#2a1f08" stroke-width="0.55"/>
<circle cx="73.58" cy="498.84" r="2.30" fill="#2084D3" stroke="#2a1f08" stroke-width="0.55"/>
<circle cx="77.72" cy="499.86" r="2.30" fill="#2084D3" stroke="#2a1f08" stroke-width="0.55"/>
<circle cx="81.85" cy="500.83" r="2.30" fill="#2084D3" stroke="#2a1f08" stroke-width="0.55"/>
<circle cx="85.99" cy="501.76" r="2.30" fill="#2084D3" stroke="#2a1f08" stroke-width="0.55"/>
<circle cx="90.12" cy="502.65" r="2.30" fill="#2084D3" stroke="#2a1f08" stroke-width="0.55"/>
<circle cx="94.25" cy="503.51" r="2.30" fill="#2084D3" stroke="#2a1f08" stroke-width="0.55"/>
<circle cx="98.39" cy="504.35" r="2.30" fill="#2084D3" stroke="#2a1f08" stroke-width="0.55"/>
<circle cx="102.52" cy="505.16" r="2.30" fill="#2084D3" stroke="#2a1f08" stroke-width="0.55"/>
<circle cx="106.66" cy="505.95" r="2.30" fill="#2084D3" stroke="#2a1f08" stroke-width="0.55"/>
<circle cx="110.79" cy="506.73" r="2.30" fill="#2084D3" stroke="#2a1f08" stroke-width="0.55"/>
<circle cx="114.92" cy="507.49" r="2.30" fill="#2084D3" stroke="#2a1f08" stroke-width="0.55"/>
<circle cx="119.06" cy="508.24" r="2.30" fill="#2084D3" stroke="#2a1f08" stroke-width="0.55"/>
<circle cx="123.19" cy="508.97" r="2.30" fill="#2084D3" stroke="#2a1f08" stroke-width="0.55"/>
<circle cx="127.33" cy="509.70" r="2.30" fill="#2084D3" stroke="#2a1f08" stroke-width="0.55"/>
<circle cx="131.46" cy="510.41" r="2.30" fill="#2084D3" stroke="#2a1f08" stroke-width="0.55"/>
<circle cx="135.59" cy="511.11" r="2.30" fill="#2084D3" stroke="#2a1f08" stroke-width="0.55"/>
<circle cx="139.73" cy="511.81" r="2.30" fill="#2084D3" stroke="#2a1f08" stroke-width="0.55"/>
<circle cx="143.86" cy="512.49" r="2.30" fill="#2084D3" stroke="#2a1f08" stroke-width="0.55"/>
<circle cx="148.00" cy="513.17" r="2.30" fill="#2084D3" stroke="#2a1f08" stroke-width="0.55"/>
<circle cx="152.13" cy="513.84" r="2.30" fill="#2084D3" stroke="#2a1f08" stroke-width="0.55"/>
<circle cx="156.26" cy="514.51" r="2.30" fill="#2084D3" stroke="#2a1f08" stroke-width="0.55"/>
<circle cx="160.40" cy="515.16" r="2.30" fill="#2084D3" stroke="#2a1f08" stroke-width="0.55"/>
<circle cx="164.53" cy="515.82" r="2.30" fill="#2084D3" stroke="#2a1f08" stroke-width="0.55"/>
<circle cx="168.67" cy="516.46" r="2.30" fill="#2084D3" stroke="#2a1f08" stroke-width="0.55"/>
<circle cx="172.80" cy="517.11" r="2.30" fill="#2084D3" stroke="#2a1f08" stroke-width="0.55"/>
<circle cx="176.93" cy="517.74" r="2.30" fill="#2084D3" stroke="#2a1f08" stroke-width="0.55"/>
<circle cx="181.07" cy="488.60" r="2.30" fill="#2084D3" stroke="#2a1f08" stroke-width="0.55"/>
<circle cx="185.20" cy="518.40" r="2.30" fill="#2084D3" stroke="#2a1f08" stroke-width="0.55"/>
<circle cx="189.34" cy="518.67" r="2.30" fill="#2084D3" stroke="#2a1f08" stroke-width="0.55"/>
<circle cx="193.47" cy="518.95" r="2.30" fill="#2084D3" stroke="#2a1f08" stroke-width="0.55"/>
<circle cx="197.60" cy="519.23" r="2.30" fill="#2084D3" stroke="#2a1f08" stroke-width="0.55"/>
<circle cx="201.74" cy="519.50" r="2.30" fill="#2084D3" stroke="#2a1f08" stroke-width="0.55"/>
<circle cx="205.87" cy="519.77" r="2.30" fill="#2084D3" stroke="#2a1f08" stroke-width="0.55"/>
<circle cx="210.01" cy="520.05" r="2.30" fill="#2084D3" stroke="#2a1f08" stroke-width="0.55"/>
<circle cx="214.14" cy="520.33" r="2.30" fill="#2084D3" stroke="#2a1f08" stroke-width="0.55"/>
<circle cx="218.27" cy="520.60" r="2.30" fill="#2084D3" stroke="#2a1f08" stroke-width="0.55"/>
<circle cx="222.41" cy="521.07" r="2.30" fill="#2084D3" stroke="#2a1f08" stroke-width="0.55"/>
<circle cx="226.54" cy="526.00" r="2.30" fill="#2084D3" stroke="#2a1f08" stroke-width="0.55"/>
<circle cx="230.68" cy="522.00" r="2.30" fill="#2084D3" stroke="#2a1f08" stroke-width="0.55"/>
<circle cx="234.81" cy="522.47" r="2.30" fill="#2084D3" stroke="#2a1f08" stroke-width="0.55"/>
<circle cx="238.94" cy="522.94" r="2.30" fill="#2084D3" stroke="#2a1f08" stroke-width="0.55"/>
<circle cx="243.08" cy="523.41" r="2.30" fill="#2084D3" stroke="#2a1f08" stroke-width="0.55"/>
<circle cx="247.21" cy="523.88" r="2.30" fill="#2084D3" stroke="#2a1f08" stroke-width="0.55"/>
<circle cx="251.35" cy="524.34" r="2.30" fill="#2084D3" stroke="#2a1f08" stroke-width="0.55"/>
<circle cx="255.48" cy="524.64" r="2.30" fill="#2084D3" stroke="#2a1f08" stroke-width="0.55"/>
<circle cx="259.61" cy="524.85" r="2.30" fill="#2084D3" stroke="#2a1f08" stroke-width="0.55"/>
<circle cx="263.75" cy="525.06" r="2.30" fill="#2084D3" stroke="#2a1f08" stroke-width="0.55"/>
<circle cx="267.88" cy="525.27" r="2.30" fill="#2084D3" stroke="#2a1f08" stroke-width="0.55"/>
<circle cx="272.02" cy="525.49" r="2.30" fill="#2084D3" stroke="#2a1f08" stroke-width="0.55"/>
<circle cx="276.15" cy="525.70" r="2.30" fill="#2084D3" stroke="#2a1f08" stroke-width="0.55"/>
<circle cx="280.28" cy="525.91" r="2.30" fill="#2084D3" stroke="#2a1f08" stroke-width="0.55"/>
<circle cx="284.42" cy="526.12" r="2.30" fill="#2084D3" stroke="#2a1f08" stroke-width="0.55"/>
<circle cx="288.55" cy="526.33" r="2.30" fill="#2084D3" stroke="#2a1f08" stroke-width="0.55"/>
<circle cx="292.69" cy="526.57" r="2.30" fill="#2084D3" stroke="#2a1f08" stroke-width="0.55"/>
<circle cx="296.82" cy="526.83" r="2.30" fill="#2084D3" stroke="#2a1f08" stroke-width="0.55"/>
<circle cx="300.95" cy="527.08" r="2.30" fill="#2084D3" stroke="#2a1f08" stroke-width="0.55"/>
<circle cx="305.09" cy="527.34" r="2.30" fill="#2084D3" stroke="#2a1f08" stroke-width="0.55"/>
<circle cx="309.22" cy="527.59" r="2.30" fill="#2084D3" stroke="#2a1f08" stroke-width="0.55"/>
<circle cx="313.36" cy="527.85" r="2.30" fill="#2084D3" stroke="#2a1f08" stroke-width="0.55"/>
<circle cx="317.49" cy="528.10" r="2.30" fill="#2084D3" stroke="#2a1f08" stroke-width="0.55"/>
<circle cx="321.62" cy="499.00" r="2.30" fill="#2084D3" stroke="#2a1f08" stroke-width="0.55"/>
<polygon points="33.73,440.83 39.03,440.83 36.38,445.17" fill="#F57A0A" stroke="#2a1f08" stroke-width="0.55"/>
<polygon points="37.86,480.27 43.16,480.27 40.51,484.62" fill="#F57A0A" stroke="#2a1f08" stroke-width="0.55"/>
<polygon points="42.00,483.44 47.30,483.44 44.65,487.78" fill="#F57A0A" stroke="#2a1f08" stroke-width="0.55"/>
<polygon points="46.13,485.60 51.43,485.60 48.78,489.95" fill="#F57A0A" stroke="#2a1f08" stroke-width="0.55"/>
<polygon points="50.26,487.30 55.56,487.30 52.91,491.65" fill="#F57A0A" stroke="#2a1f08" stroke-width="0.55"/>
<polygon points="54.40,488.73 59.70,488.73 57.05,493.08" fill="#F57A0A" stroke="#2a1f08" stroke-width="0.55"/>
<polygon points="58.53,489.98 63.83,489.98 61.18,494.33" fill="#F57A0A" stroke="#2a1f08" stroke-width="0.55"/>
<polygon points="62.67,491.11 67.97,491.11 65.32,495.46" fill="#F57A0A" stroke="#2a1f08" stroke-width="0.55"/>
<polygon points="66.80,492.15 72.10,492.15 69.45,496.50" fill="#F57A0A" stroke="#2a1f08" stroke-width="0.55"/>
<polygon points="70.93,493.12 76.23,493.12 73.58,497.46" fill="#F57A0A" stroke="#2a1f08" stroke-width="0.55"/>
<polygon points="75.07,494.02 80.37,494.02 77.72,498.37" fill="#F57A0A" stroke="#2a1f08" stroke-width="0.55"/>
<polygon points="79.20,494.89 84.50,494.89 81.85,499.23" fill="#F57A0A" stroke="#2a1f08" stroke-width="0.55"/>
<polygon points="83.34,495.71 88.64,495.71 85.99,500.06" fill="#F57A0A" stroke="#2a1f08" stroke-width="0.55"/>
<polygon points="87.47,496.50 92.77,496.50 90.12,500.85" fill="#F57A0A" stroke="#2a1f08" stroke-width="0.55"/>
<polygon points="91.60,497.27 96.90,497.27 94.25,501.61" fill="#F57A0A" stroke="#2a1f08" stroke-width="0.55"/>
<polygon points="95.74,498.01 101.04,498.01 98.39,502.35" fill="#F57A0A" stroke="#2a1f08" stroke-width="0.55"/>
<polygon points="99.87,498.72 105.17,498.72 102.52,503.07" fill="#F57A0A" stroke="#2a1f08" stroke-width="0.55"/>
<polygon points="104.01,499.42 109.31,499.42 106.66,503.77" fill="#F57A0A" stroke="#2a1f08" stroke-width="0.55"/>
<polygon points="108.14,500.11 113.44,500.11 110.79,504.45" fill="#F57A0A" stroke="#2a1f08" stroke-width="0.55"/>
<polygon points="112.27,500.78 117.57,500.78 114.92,505.12" fill="#F57A0A" stroke="#2a1f08" stroke-width="0.55"/>
<polygon points="116.41,501.43 121.71,501.43 119.06,505.78" fill="#F57A0A" stroke="#2a1f08" stroke-width="0.55"/>
<polygon points="120.54,502.08 125.84,502.08 123.19,506.42" fill="#F57A0A" stroke="#2a1f08" stroke-width="0.55"/>
<polygon points="124.68,502.71 129.98,502.71 127.33,507.06" fill="#F57A0A" stroke="#2a1f08" stroke-width="0.55"/>
<polygon points="128.81,503.33 134.11,503.33 131.46,507.68" fill="#F57A0A" stroke="#2a1f08" stroke-width="0.55"/>
<polygon points="132.94,503.95 138.24,503.95 135.59,508.29" fill="#F57A0A" stroke="#2a1f08" stroke-width="0.55"/>
<polygon points="137.08,504.55 142.38,504.55 139.73,508.90" fill="#F57A0A" stroke="#2a1f08" stroke-width="0.55"/>
<polygon points="141.21,505.15 146.51,505.15 143.86,509.50" fill="#F57A0A" stroke="#2a1f08" stroke-width="0.55"/>
<polygon points="145.35,505.74 150.65,505.74 148.00,510.09" fill="#F57A0A" stroke="#2a1f08" stroke-width="0.55"/>
<polygon points="149.48,506.33 154.78,506.33 152.13,510.67" fill="#F57A0A" stroke="#2a1f08" stroke-width="0.55"/>
<polygon points="153.61,506.91 158.91,506.91 156.26,511.25" fill="#F57A0A" stroke="#2a1f08" stroke-width="0.55"/>
<polygon points="157.75,507.48 163.05,507.48 160.40,511.82" fill="#F57A0A" stroke="#2a1f08" stroke-width="0.55"/>
<polygon points="161.88,508.05 167.18,508.05 164.53,512.39" fill="#F57A0A" stroke="#2a1f08" stroke-width="0.55"/>
<polygon points="166.02,508.61 171.32,508.61 168.67,512.95" fill="#F57A0A" stroke="#2a1f08" stroke-width="0.55"/>
<polygon points="170.15,509.16 175.45,509.16 172.80,513.51" fill="#F57A0A" stroke="#2a1f08" stroke-width="0.55"/>
<polygon points="174.28,509.72 179.58,509.72 176.93,514.06" fill="#F57A0A" stroke="#2a1f08" stroke-width="0.55"/>
<polygon points="178.42,482.13 183.72,482.13 181.07,486.47" fill="#F57A0A" stroke="#2a1f08" stroke-width="0.55"/>
<polygon points="182.55,510.83 187.85,510.83 185.20,515.17" fill="#F57A0A" stroke="#2a1f08" stroke-width="0.55"/>
<polygon points="186.69,511.15 191.99,511.15 189.34,515.50" fill="#F57A0A" stroke="#2a1f08" stroke-width="0.55"/>
<polygon points="190.82,511.48 196.12,511.48 193.47,515.82" fill="#F57A0A" stroke="#2a1f08" stroke-width="0.55"/>
<polygon points="194.95,511.80 200.25,511.80 197.60,516.15" fill="#F57A0A" stroke="#2a1f08" stroke-width="0.55"/>
<polygon points="199.09,512.13 204.39,512.13 201.74,516.47" fill="#F57A0A" stroke="#2a1f08" stroke-width="0.55"/>
<polygon points="203.22,512.45 208.52,512.45 205.87,516.80" fill="#F57A0A" stroke="#2a1f08" stroke-width="0.55"/>
<polygon points="207.36,512.78 212.66,512.78 210.01,517.12" fill="#F57A0A" stroke="#2a1f08" stroke-width="0.55"/>
<polygon points="211.49,513.10 216.79,513.10 214.14,517.45" fill="#F57A0A" stroke="#2a1f08" stroke-width="0.55"/>
<polygon points="215.62,513.43 220.92,513.43 218.27,517.77" fill="#F57A0A" stroke="#2a1f08" stroke-width="0.55"/>
<polygon points="219.76,513.88 225.06,513.88 222.41,518.23" fill="#F57A0A" stroke="#2a1f08" stroke-width="0.55"/>
<polygon points="223.89,514.34 229.19,514.34 226.54,518.69" fill="#F57A0A" stroke="#2a1f08" stroke-width="0.55"/>
<polygon points="228.03,514.79 233.33,514.79 230.68,519.14" fill="#F57A0A" stroke="#2a1f08" stroke-width="0.55"/>
<polygon points="232.16,515.25 237.46,515.25 234.81,519.60" fill="#F57A0A" stroke="#2a1f08" stroke-width="0.55"/>
<polygon points="236.29,515.71 241.59,515.71 238.94,520.05" fill="#F57A0A" stroke="#2a1f08" stroke-width="0.55"/>
<polygon points="240.43,516.16 245.73,516.16 243.08,520.51" fill="#F57A0A" stroke="#2a1f08" stroke-width="0.55"/>
<polygon points="244.56,516.62 249.86,516.62 247.21,520.97" fill="#F57A0A" stroke="#2a1f08" stroke-width="0.55"/>
<polygon points="248.70,517.07 254.00,517.07 251.35,521.42" fill="#F57A0A" stroke="#2a1f08" stroke-width="0.55"/>
<polygon points="252.83,517.43 258.13,517.43 255.48,521.77" fill="#F57A0A" stroke="#2a1f08" stroke-width="0.55"/>
<polygon points="256.96,517.73 262.26,517.73 259.61,522.07" fill="#F57A0A" stroke="#2a1f08" stroke-width="0.55"/>
<polygon points="261.10,518.03 266.40,518.03 263.75,522.37" fill="#F57A0A" stroke="#2a1f08" stroke-width="0.55"/>
<polygon points="265.23,518.33 270.53,518.33 267.88,522.67" fill="#F57A0A" stroke="#2a1f08" stroke-width="0.55"/>
<polygon points="269.37,518.63 274.67,518.63 272.02,522.97" fill="#F57A0A" stroke="#2a1f08" stroke-width="0.55"/>
<polygon points="273.50,518.93 278.80,518.93 276.15,523.27" fill="#F57A0A" stroke="#2a1f08" stroke-width="0.55"/>
<polygon points="277.63,519.23 282.93,519.23 280.28,523.57" fill="#F57A0A" stroke="#2a1f08" stroke-width="0.55"/>
<polygon points="281.77,519.53 287.07,519.53 284.42,523.87" fill="#F57A0A" stroke="#2a1f08" stroke-width="0.55"/>
<polygon points="285.90,519.83 291.20,519.83 288.55,524.17" fill="#F57A0A" stroke="#2a1f08" stroke-width="0.55"/>
<polygon points="290.04,520.11 295.34,520.11 292.69,524.45" fill="#F57A0A" stroke="#2a1f08" stroke-width="0.55"/>
<polygon points="294.17,520.38 299.47,520.38 296.82,524.72" fill="#F57A0A" stroke="#2a1f08" stroke-width="0.55"/>
<polygon points="298.30,520.65 303.60,520.65 300.95,524.99" fill="#F57A0A" stroke="#2a1f08" stroke-width="0.55"/>
<polygon points="302.44,520.92 307.74,520.92 305.09,525.26" fill="#F57A0A" stroke="#2a1f08" stroke-width="0.55"/>
<polygon points="306.57,521.19 311.87,521.19 309.22,525.53" fill="#F57A0A" stroke="#2a1f08" stroke-width="0.55"/>
<polygon points="310.71,521.46 316.01,521.46 313.36,525.80" fill="#F57A0A" stroke="#2a1f08" stroke-width="0.55"/>
<polygon points="314.84,521.73 320.14,521.73 317.49,526.07" fill="#F57A0A" stroke="#2a1f08" stroke-width="0.55"/>
<polygon points="318.97,495.83 324.27,495.83 321.62,500.17" fill="#F57A0A" stroke="#2a1f08" stroke-width="0.55"/>
</g>
<g fill="#111" stroke="#111" stroke-width="0.18">
<text x="35.00" y="18.30" font-size="7.3" text-anchor="middle" >0</text>
<text x="35.00" y="575.20" font-size="7.3" text-anchor="middle" >0</text>
<text x="69.45" y="18.30" font-size="7.3" text-anchor="middle" >25</text>
<text x="69.45" y="575.20" font-size="7.3" text-anchor="middle" >25</text>
<text x="103.90" y="18.30" font-size="7.3" text-anchor="middle" >50</text>
<text x="103.90" y="575.20" font-size="7.3" text-anchor="middle" >50</text>
<text x="138.35" y="18.30" font-size="7.3" text-anchor="middle" >75</text>
<text x="138.35" y="575.20" font-size="7.3" text-anchor="middle" >75</text>
<text x="172.80" y="18.30" font-size="7.3" text-anchor="middle" >100</text>
<text x="172.80" y="575.20" font-size="7.3" text-anchor="middle" >100</text>
<text x="207.25" y="18.30" font-size="7.3" text-anchor="middle" >125</text>
<text x="207.25" y="575.20" font-size="7.3" text-anchor="middle" >125</text>
<text x="241.70" y="18.30" font-size="7.3" text-anchor="middle" >150</text>
<text x="241.70" y="575.20" font-size="7.3" text-anchor="middle" >150</text>
<text x="276.15" y="18.30" font-size="7.3" text-anchor="middle" >175</text>
<text x="276.15" y="575.20" font-size="7.3" text-anchor="middle" >175</text>
<text x="310.60" y="18.30" font-size="7.3" text-anchor="middle" >200</text>
<text x="310.60" y="575.20" font-size="7.3" text-anchor="middle" >200</text>
<text x="31.90" y="25.60" font-size="7.3" text-anchor="end" >275</text>
<text x="31.90" y="46.43" font-size="7.3" text-anchor="end" >250</text>
<text x="31.90" y="67.26" font-size="7.3" text-anchor="end" >225</text>
<text x="31.90" y="88.09" font-size="7.3" text-anchor="end" >200</text>
<text x="31.90" y="108.92" font-size="7.3" text-anchor="end" >175</text>
<text x="31.90" y="129.75" font-size="7.3" text-anchor="end" >150</text>
<text x="31.90" y="150.58" font-size="7.3" text-anchor="end" >125</text>
<text x="31.90" y="172.10" font-size="7.3" text-anchor="end" >100</text>
<text x="31.90" y="194.20" font-size="7.3" text-anchor="end" >98</text>
<text x="31.90" y="219.10" font-size="7.3" text-anchor="end" >94</text>
<text x="31.90" y="241.30" font-size="7.3" text-anchor="end" >92</text>
<text x="31.90" y="263.50" font-size="7.3" text-anchor="end" >90</text>
<text x="31.90" y="285.70" font-size="7.3" text-anchor="end" >88</text>
<text x="325.90" y="172.10" font-size="7.3" text-anchor="start" >100</text>
<text x="325.90" y="194.20" font-size="7.3" text-anchor="start" >98</text>
<text x="325.90" y="219.10" font-size="7.3" text-anchor="start" >88</text>
<text x="325.90" y="241.30" font-size="7.3" text-anchor="start" >84</text>
<text x="325.90" y="263.50" font-size="7.3" text-anchor="start" >80</text>
<text x="325.90" y="285.70" font-size="7.3" text-anchor="start" >76</text>
<text x="31.90" y="314.49" font-size="7.3" text-anchor="end" >3.65</text>
<text x="31.90" y="331.98" font-size="7.3" text-anchor="end" >3.60</text>
<text x="31.90" y="349.47" font-size="7.3" text-anchor="end" >3.55</text>
<text x="31.90" y="366.96" font-size="7.3" text-anchor="end" >3.50</text>
<text x="31.90" y="384.45" font-size="7.3" text-anchor="end" >3.45</text>
<text x="31.90" y="401.94" font-size="7.3" text-anchor="end" >3.40</text>
<text x="31.90" y="419.43" font-size="7.3" text-anchor="end" >3.35</text>
<text x="31.90" y="297.00" font-size="7.3" text-anchor="end" >3.70</text>
<text x="31.90" y="433.10" font-size="7.3" text-anchor="end" >1000</text>
<text x="31.90" y="453.95" font-size="7.3" text-anchor="end" >900</text>
<text x="31.90" y="474.80" font-size="7.3" text-anchor="end" >800</text>
<text x="31.90" y="495.65" font-size="7.3" text-anchor="end" >700</text>
<text x="31.90" y="516.50" font-size="7.3" text-anchor="end" >600</text>
<text x="31.90" y="537.35" font-size="7.3" text-anchor="end" >500</text>
<text x="31.90" y="558.20" font-size="7.3" text-anchor="end" >400</text>
</g>
<g fill="#111" stroke="#111" stroke-width="0.22">
<text x="179.40" y="7.90" font-size="9.6" text-anchor="middle" >Cycle Number</text>
<text x="179.40" y="584.80" font-size="9.6" text-anchor="middle" >Cycle Number</text>
<text transform="translate(10.70,90.20) rotate(-90)" x="0" y="0" font-size="9.65" text-anchor="middle">Discharge Capacity [mAh g<tspan font-size="5.8" dy="-5.4">-1</tspan><tspan dy="5.4">]</tspan></text>
<text transform="translate(10.70,232.00) rotate(-90)" x="0" y="0" font-size="9.65" text-anchor="middle">Coulombic Efficiency [%]</text>
<text transform="translate(10.70,362.50) rotate(-90)" x="0" y="0" font-size="9.65" text-anchor="middle">Electrode Potential [V <tspan font-style="italic">vs.</tspan> Li|Li<tspan font-size="5.8" dy="-5.4">+</tspan><tspan dy="5.4">]</tspan></text>
<text transform="translate(10.70,503.90) rotate(-90)" x="0" y="0" font-size="9.65" text-anchor="middle">Specific Energy [Wh kg<tspan font-size="5.8" dy="-5.4">-1</tspan><tspan dy="5.4">]</tspan></text>
<text transform="translate(343.30,226.60) rotate(-90)" x="0" y="0" font-size="9.6" text-anchor="middle" dy="3.4">Energy Efficiency [%]</text>
</g>
<g fill="#111">
<text x="39.0" y="152.4" font-size="16.4" font-weight="bold">a)</text>
<text x="39.0" y="286.6" font-size="16.4" font-weight="bold">b)</text>
<text x="39.0" y="422.9" font-size="16.4" font-weight="bold">c)</text>
<text x="39.0" y="559.5" font-size="16.4" font-weight="bold">d)</text>
</g>
<g fill="#111" stroke="#111" stroke-width="0.2">
<text x="39.60" y="36.90" font-size="12.95" text-anchor="start" >0.1C</text>
<text x="49.60" y="75.00" font-size="12.95" text-anchor="start" >0.5C</text>
<text x="172.20" y="70.60" font-size="12.95" text-anchor="start" >0.1C</text>
<text x="192.20" y="100.00" font-size="12.95" text-anchor="start" >0.5C</text>
<text x="286.70" y="100.00" font-size="12.95" text-anchor="start" >0.1C</text>
</g>
<g stroke="#111" stroke-width="0.15">
<text x="264.00" y="40.80" font-size="11.95" text-anchor="start" >Core-Shell</text>
<text x="264.00" y="55.10" font-size="11.95" text-anchor="start" >Shell</text>
<text x="264.00" y="69.40" font-size="11.95" text-anchor="start" >Core</text>
</g>
<polygon points="245.15,34.93 250.45,34.93 247.80,39.27" fill="#F57A0A" stroke="#2a1f08" stroke-width="0.55"/>
<circle cx="247.70" cy="51.20" r="2.30" fill="#2084D3" stroke="#2a1f08" stroke-width="0.55"/>
<rect x="245.70" y="63.40" width="4.00" height="4.00" fill="#F9C600" stroke="#2a1f08" stroke-width="0.55"/>
<path d="M298.6,237.9 Q302,246.5 311.5,248.6" fill="none" stroke="#222" stroke-width="0.7"/><polygon points="316,249.2 310.5,247.2 310.8,250.6" fill="#111"/>
</svg>
</body></html>
